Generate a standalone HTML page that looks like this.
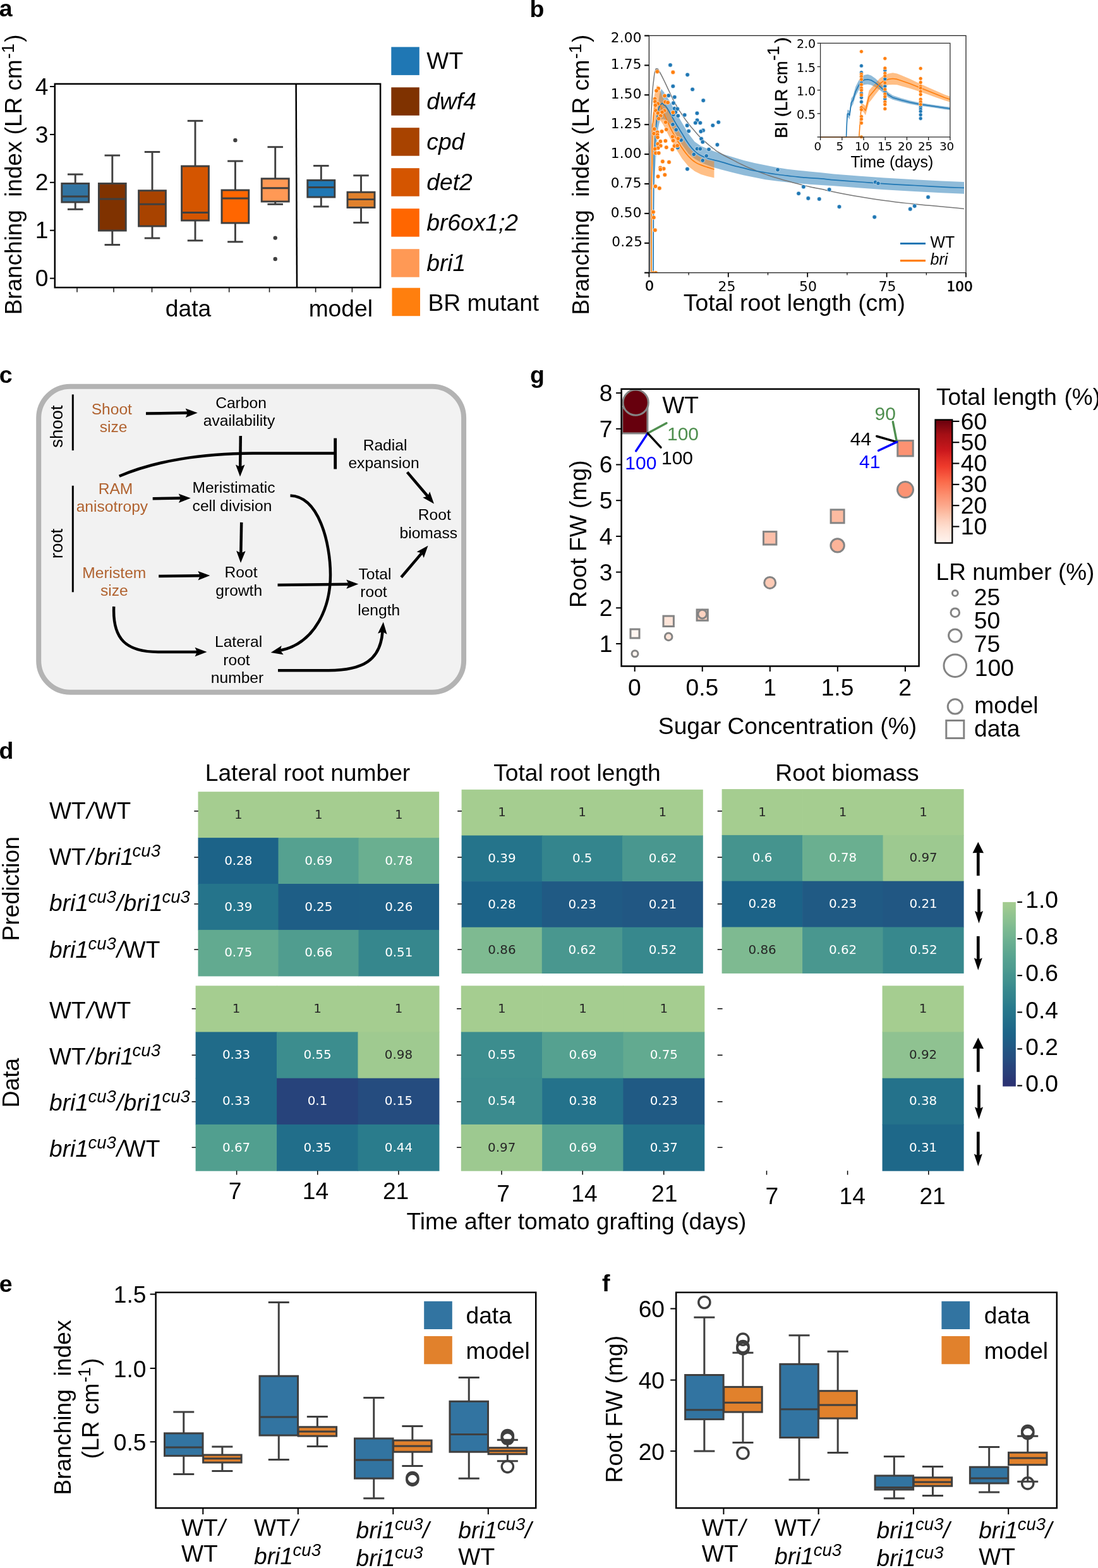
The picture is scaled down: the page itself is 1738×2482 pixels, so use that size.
<!DOCTYPE html>
<html lang="en">
<head>
<meta charset="utf-8">
<title>Figure: root branching model</title>
<style>
html,body{margin:0;padding:0;background:#fff;}
body{width:1738px;height:2482px;overflow:hidden;}
svg{display:block;}
text{font-family:'Liberation Sans', Arial, Helvetica, sans-serif;}
text.d{font-family:'DejaVu Sans', 'Liberation Sans', sans-serif;}
</style>
</head>
<body>
<svg width="1738" height="2482" viewBox="0 0 1738 2482">
<rect x="0" y="0" width="1738" height="2482" fill="#fff"/>
<g id="panel-a">
<text class="a" x="-1.3" y="25.5" font-size="37.5" font-weight="bold">a</text>
<text class="a" x="34" y="276.4" font-size="36.9" text-anchor="middle" transform="rotate(-90 34 276.4)">Branching  index (LR cm<tspan dx="1.2" dy="-12.4" font-size="27.3">-1</tspan><tspan dx="2" dy="12.4" font-size="36.9">)</tspan></text>
<line x1="79" y1="440.6" x2="86.8" y2="440.6" stroke="#000" stroke-width="2"/>
<text class="a" x="76.5" y="453.2" font-size="37.2" text-anchor="end">0</text>
<line x1="79" y1="364.7" x2="86.8" y2="364.7" stroke="#000" stroke-width="2"/>
<text class="a" x="76.5" y="377.3" font-size="37.2" text-anchor="end">1</text>
<line x1="79" y1="288.8" x2="86.8" y2="288.8" stroke="#000" stroke-width="2"/>
<text class="a" x="76.5" y="301.4" font-size="37.2" text-anchor="end">2</text>
<line x1="79" y1="212.9" x2="86.8" y2="212.9" stroke="#000" stroke-width="2"/>
<text class="a" x="76.5" y="225.5" font-size="37.2" text-anchor="end">3</text>
<line x1="79" y1="137" x2="86.8" y2="137" stroke="#000" stroke-width="2"/>
<text class="a" x="76.5" y="149.6" font-size="37.2" text-anchor="end">4</text>
<line x1="122" y1="455.1" x2="122" y2="462.6" stroke="#222" stroke-width="1.6"/>
<line x1="180" y1="455.1" x2="180" y2="462.6" stroke="#222" stroke-width="1.6"/>
<line x1="240.5" y1="455.1" x2="240.5" y2="462.6" stroke="#222" stroke-width="1.6"/>
<line x1="301.7" y1="455.1" x2="301.7" y2="462.6" stroke="#222" stroke-width="1.6"/>
<line x1="362.7" y1="455.1" x2="362.7" y2="462.6" stroke="#222" stroke-width="1.6"/>
<line x1="426.5" y1="455.1" x2="426.5" y2="462.6" stroke="#222" stroke-width="1.6"/>
<line x1="499.6" y1="455.1" x2="499.6" y2="462.6" stroke="#222" stroke-width="1.6"/>
<line x1="557.4" y1="455.1" x2="557.4" y2="462.6" stroke="#222" stroke-width="1.6"/>
<line x1="119.2" y1="276" x2="119.2" y2="290.5" stroke="#3f3f3f" stroke-width="2.9"/>
<line x1="119.2" y1="320" x2="119.2" y2="331.3" stroke="#3f3f3f" stroke-width="2.9"/>
<line x1="106.95" y1="276" x2="131.45" y2="276" stroke="#3f3f3f" stroke-width="2.9"/>
<line x1="106.95" y1="331.3" x2="131.45" y2="331.3" stroke="#3f3f3f" stroke-width="2.9"/>
<rect x="97.8" y="290.5" width="42.8" height="29.5" fill="#3274a1" stroke="#3f3f3f" stroke-width="2.9"/>
<line x1="97.8" y1="311" x2="140.6" y2="311" stroke="#3f3f3f" stroke-width="2.9"/>
<line x1="177.8" y1="246" x2="177.8" y2="290.5" stroke="#3f3f3f" stroke-width="2.9"/>
<line x1="177.8" y1="365" x2="177.8" y2="387.5" stroke="#3f3f3f" stroke-width="2.9"/>
<line x1="165.55" y1="246" x2="190.05" y2="246" stroke="#3f3f3f" stroke-width="2.9"/>
<line x1="165.55" y1="387.5" x2="190.05" y2="387.5" stroke="#3f3f3f" stroke-width="2.9"/>
<rect x="156.4" y="290.5" width="42.8" height="74.5" fill="#7f3200" stroke="#3f3f3f" stroke-width="2.9"/>
<line x1="156.4" y1="315" x2="199.2" y2="315" stroke="#3f3f3f" stroke-width="2.9"/>
<line x1="241" y1="240.5" x2="241" y2="301.7" stroke="#3f3f3f" stroke-width="2.9"/>
<line x1="241" y1="358" x2="241" y2="377" stroke="#3f3f3f" stroke-width="2.9"/>
<line x1="228.75" y1="240.5" x2="253.25" y2="240.5" stroke="#3f3f3f" stroke-width="2.9"/>
<line x1="228.75" y1="377" x2="253.25" y2="377" stroke="#3f3f3f" stroke-width="2.9"/>
<rect x="219.6" y="301.7" width="42.8" height="56.3" fill="#a84300" stroke="#3f3f3f" stroke-width="2.9"/>
<line x1="219.6" y1="323.3" x2="262.4" y2="323.3" stroke="#3f3f3f" stroke-width="2.9"/>
<line x1="309" y1="191.3" x2="309" y2="263" stroke="#3f3f3f" stroke-width="2.9"/>
<line x1="309" y1="349" x2="309" y2="380.8" stroke="#3f3f3f" stroke-width="2.9"/>
<line x1="296.75" y1="191.3" x2="321.25" y2="191.3" stroke="#3f3f3f" stroke-width="2.9"/>
<line x1="296.75" y1="380.8" x2="321.25" y2="380.8" stroke="#3f3f3f" stroke-width="2.9"/>
<rect x="287.6" y="263" width="42.8" height="86" fill="#d45500" stroke="#3f3f3f" stroke-width="2.9"/>
<line x1="287.6" y1="336.5" x2="330.4" y2="336.5" stroke="#3f3f3f" stroke-width="2.9"/>
<line x1="372.4" y1="255" x2="372.4" y2="301" stroke="#3f3f3f" stroke-width="2.9"/>
<line x1="372.4" y1="353" x2="372.4" y2="382.8" stroke="#3f3f3f" stroke-width="2.9"/>
<line x1="360.15" y1="255" x2="384.65" y2="255" stroke="#3f3f3f" stroke-width="2.9"/>
<line x1="360.15" y1="382.8" x2="384.65" y2="382.8" stroke="#3f3f3f" stroke-width="2.9"/>
<rect x="351" y="301" width="42.8" height="52" fill="#ff6600" stroke="#3f3f3f" stroke-width="2.9"/>
<line x1="351" y1="314" x2="393.8" y2="314" stroke="#3f3f3f" stroke-width="2.9"/>
<circle cx="372.4" cy="222" r="3.2" fill="#3f3f3f"/>
<line x1="435.7" y1="232.7" x2="435.7" y2="282.8" stroke="#3f3f3f" stroke-width="2.9"/>
<line x1="435.7" y1="319" x2="435.7" y2="323.3" stroke="#3f3f3f" stroke-width="2.9"/>
<line x1="423.45" y1="232.7" x2="447.95" y2="232.7" stroke="#3f3f3f" stroke-width="2.9"/>
<line x1="423.45" y1="323.3" x2="447.95" y2="323.3" stroke="#3f3f3f" stroke-width="2.9"/>
<rect x="414.2" y="282.8" width="43" height="36.2" fill="#ff9955" stroke="#3f3f3f" stroke-width="2.9"/>
<line x1="414.2" y1="297.7" x2="457.2" y2="297.7" stroke="#3f3f3f" stroke-width="2.9"/>
<circle cx="435.7" cy="376.6" r="3.2" fill="#3f3f3f"/>
<circle cx="435.7" cy="410" r="3.2" fill="#3f3f3f"/>
<line x1="508.3" y1="262.4" x2="508.3" y2="285.3" stroke="#3f3f3f" stroke-width="2.9"/>
<line x1="508.3" y1="312" x2="508.3" y2="327" stroke="#3f3f3f" stroke-width="2.9"/>
<line x1="496.05" y1="262.4" x2="520.55" y2="262.4" stroke="#3f3f3f" stroke-width="2.9"/>
<line x1="496.05" y1="327" x2="520.55" y2="327" stroke="#3f3f3f" stroke-width="2.9"/>
<rect x="486.8" y="285.3" width="43" height="26.7" fill="#1f77b4" stroke="#3f3f3f" stroke-width="2.9"/>
<line x1="486.8" y1="296.5" x2="529.8" y2="296.5" stroke="#3f3f3f" stroke-width="2.9"/>
<line x1="571.5" y1="277.8" x2="571.5" y2="304.2" stroke="#3f3f3f" stroke-width="2.9"/>
<line x1="571.5" y1="328.5" x2="571.5" y2="352.4" stroke="#3f3f3f" stroke-width="2.9"/>
<line x1="559.25" y1="277.8" x2="583.75" y2="277.8" stroke="#3f3f3f" stroke-width="2.9"/>
<line x1="559.25" y1="352.4" x2="583.75" y2="352.4" stroke="#3f3f3f" stroke-width="2.9"/>
<rect x="550" y="304.2" width="43" height="24.3" fill="#e1812c" stroke="#3f3f3f" stroke-width="2.9"/>
<line x1="550" y1="315.6" x2="593" y2="315.6" stroke="#3f3f3f" stroke-width="2.9"/>
<rect x="86.8" y="132.8" width="515.3" height="322.3" fill="none" stroke="#000" stroke-width="2.5"/>
<line x1="468.6" y1="132.8" x2="470" y2="455.1" stroke="#000" stroke-width="2.5"/>
<text class="a" x="298" y="500.8" font-size="37.2" text-anchor="middle">data</text>
<text class="a" x="539.3" y="500.8" font-size="37.2" text-anchor="middle">model</text>
<rect x="619.3" y="74.4" width="44.5" height="44.5" fill="#1f77b4"/>
<text class="a" x="675.3" y="109" font-size="37.2">WT</text>
<rect x="619.3" y="138.3" width="44.5" height="44.5" fill="#7f3200"/>
<text class="a" x="675.3" y="172.9" font-size="37.2" font-style="italic">dwf4</text>
<rect x="619.3" y="202.2" width="44.5" height="44.5" fill="#a84300"/>
<text class="a" x="675.3" y="236.8" font-size="37.2" font-style="italic">cpd</text>
<rect x="619.3" y="266.2" width="44.5" height="44.5" fill="#d45500"/>
<text class="a" x="675.3" y="300.8" font-size="37.2" font-style="italic">det2</text>
<rect x="619.3" y="330.2" width="44.5" height="44.5" fill="#ff6600"/>
<text class="a" x="675.3" y="364.8" font-size="37.2" font-style="italic">br6ox1;2</text>
<rect x="619.3" y="394.2" width="44.5" height="44.5" fill="#ff9955"/>
<text class="a" x="675.3" y="428.8" font-size="37.2" font-style="italic">bri1</text>
<rect x="620.5" y="455.7" width="44.5" height="44.5" fill="#ff7f0e"/>
<text class="a" x="677.5" y="491.8" font-size="37.2">BR mutant</text>
</g>
<g id="panel-b">
<text class="a" x="838.6" y="27.2" font-size="37.5" font-weight="bold">b</text>
<text class="a" x="932.2" y="276.6" font-size="36.9" text-anchor="middle" transform="rotate(-90 932.2 276.6)">Branching  index (LR cm<tspan dx="1.2" dy="-12.4" font-size="27.3">-1</tspan><tspan dx="2" dy="12.4" font-size="36.9">)</tspan></text>
<clipPath id="clipb"><rect x="1027.4" y="56.4" width="501.6" height="375.3"/></clipPath>
<g clip-path="url(#clipb)">
<path d="M1034.93 299.95 L1036.92 229.3 L1039.9 179.55 L1043.88 149.7 L1046.87 140.75 L1050.85 145.72 L1059.8 159.65 L1069.75 177.56 L1079.7 194.48 L1089.65 211.39 L1099.6 224.33 L1109.55 231.29 L1119.5 235.27 L1129.45 239.25 L1141.89 243.28 L1159.3 248.5 L1176.71 253.73 L1194.13 258.08 L1211.54 261.56 L1228.95 265.04 L1246.36 267.66 L1263.78 269.75 L1281.19 271.49 L1299.99 273.23 L1320 275.5 L1361.6 278.7 L1400 281.5 L1447.5 284.2 L1490 286.5 L1526 288 L1526 306.8 L1490 305.3 L1447.5 303 L1400 300.3 L1361.6 297.5 L1320 294.3 L1299.99 292.9 L1281.19 291.69 L1263.78 290.29 L1246.36 288.55 L1228.95 286.46 L1211.54 284.2 L1194.13 280.72 L1176.71 277.23 L1159.3 272.88 L1141.89 268.53 L1129.45 265.12 L1119.5 261.14 L1109.55 257.16 L1099.6 251.19 L1089.65 243.23 L1079.7 229.3 L1069.75 212.39 L1059.8 195.47 L1054.83 190.5 L1049.85 188.51 L1044.88 189.5 L1041.89 202.44 L1038.91 239.25 L1034.93 299.95 Z" fill="#1f77b4" fill-opacity="0.5"/>
<path d="M1029.95 299.95 L1032.94 189.5 L1035.92 149.7 L1039.9 134.78 L1043.88 139.75 L1047.86 151.69 L1054.83 167.61 L1059.8 179.55 L1069.75 199.45 L1079.7 217.36 L1089.65 232.29 L1099.6 243.23 L1109.55 249.2 L1119.5 253.18 L1130.45 255.17 L1130.45 281.54 L1119.5 279.05 L1109.55 276.07 L1099.6 271.09 L1089.65 263.13 L1079.7 251.19 L1069.75 235.27 L1059.8 217.36 L1054.83 207.41 L1049.85 197.46 L1045.87 191.49 L1041.89 189.5 L1036.92 199.45 L1034.93 239.25 L1031.94 299.95 Z" fill="#ff7f0e" fill-opacity="0.5"/>
<path d="M1028.46 438.26 C1028.69 392.16 1028.66 376.24 1029.15 299.95 C1029.65 223.67 1029.02 256.17 1029.95 209.4 C1030.88 162.64 1030.28 187.84 1031.94 159.65 C1033.6 131.46 1033.1 140.75 1034.93 124.83 C1036.75 108.91 1035.92 117.13 1037.41 111.89 C1038.91 106.65 1038.08 109.77 1039.4 109.1 C1040.73 108.44 1040.23 108.97 1041.39 109.9 C1042.55 110.83 1040.07 106.92 1042.89 111.89 C1045.7 116.87 1044.21 113.55 1049.85 124.83 C1055.49 136.1 1053.17 132.12 1059.8 145.72 C1066.43 159.32 1063.12 153.68 1069.75 165.62 C1076.38 177.56 1073.07 171.59 1079.7 181.54 C1086.33 191.49 1083.02 186.85 1089.65 195.47 C1096.29 204.1 1092.97 199.78 1099.6 207.41 C1106.24 215.04 1102.92 211.72 1109.55 218.36 C1116.19 224.99 1112.87 221.67 1119.5 227.31 C1126.14 232.95 1122.82 230.3 1129.45 235.27 C1136.09 240.25 1129.45 236.38 1139.4 242.24 C1149.35 248.1 1146.86 246.41 1159.3 252.86 C1171.74 259.3 1165.1 256.16 1176.71 261.56 C1188.32 266.96 1182.52 264.29 1194.13 269.05 C1205.73 273.81 1199.93 271.66 1211.54 275.84 C1223.15 280.02 1217.34 278.05 1228.95 281.59 C1240.56 285.13 1234.75 283.27 1246.36 286.46 C1257.97 289.65 1252.17 288.14 1263.78 291.16 C1275.38 294.18 1269.11 292.79 1281.19 295.52 C1293.26 298.24 1287.06 296.59 1299.99 299.35 C1312.93 302.11 1299.46 299.75 1320 303.8 C1340.54 307.85 1333.27 306.77 1361.6 311.5 C1389.93 316.23 1376.37 314.17 1405 318 C1433.63 321.83 1419.17 320 1447.5 323 C1475.83 326 1463.83 324.53 1490 327 C1516.17 329.47 1514 329.27 1526 330.4" fill="none" stroke="#777" stroke-width="1.5" stroke-linejoin="round"/>
<path d="M1033.93 438.26 C1034.2 393.15 1034.26 324.83 1034.93 269.1 C1035.59 213.38 1035.49 247.88 1036.42 229.3 C1037.35 210.73 1037.21 212.72 1038.41 199.45 C1039.6 186.19 1039.44 187.78 1040.9 179.55 C1042.35 171.33 1042.29 172.59 1043.88 168.61 C1045.47 164.63 1045.67 165.95 1046.87 164.63 C1048.06 163.3 1047.3 163.23 1048.36 163.63 C1049.42 164.03 1049.12 164.53 1050.85 166.12 C1052.57 167.71 1052.44 166.55 1054.83 169.6 C1057.21 172.65 1057.15 173.05 1059.8 177.56 C1062.45 182.07 1062.12 181.74 1064.78 186.52 C1067.43 191.29 1067.1 190.96 1069.75 195.47 C1072.4 199.98 1072.07 199.19 1074.73 203.43 C1077.38 207.68 1075.72 205.02 1079.7 211.39 C1083.68 217.76 1084.34 219.88 1089.65 227.31 C1094.96 234.74 1094.3 234.21 1099.6 239.25 C1104.91 244.3 1104.25 243.3 1109.55 246.22 C1114.86 249.14 1114.2 248.34 1119.5 250.2 C1124.81 252.06 1123.48 251.55 1129.45 253.18 C1135.42 254.82 1133.93 254.1 1141.89 256.34 C1149.85 258.57 1150.01 259.01 1159.3 261.56 C1168.59 264.12 1167.43 263.59 1176.71 265.92 C1186 268.24 1184.84 268.32 1194.13 270.27 C1203.41 272.22 1202.25 271.7 1211.54 273.23 C1220.82 274.76 1219.66 274.71 1228.95 276.01 C1238.24 277.31 1237.08 276.99 1246.36 278.1 C1255.65 279.22 1254.49 279.26 1263.78 280.19 C1273.06 281.12 1271.53 280.89 1281.19 281.59 C1290.85 282.28 1289.64 281.95 1299.99 282.81 C1310.34 283.66 1303.57 283.41 1320 284.8 C1336.43 286.19 1340.27 286.4 1361.6 288 C1382.93 289.6 1377.09 289.33 1400 290.8 C1422.91 292.27 1423.5 292.17 1447.5 293.5 C1471.5 294.83 1469.07 294.79 1490 295.8 C1510.93 296.81 1516.4 296.9 1526 297.3" fill="none" stroke="#1f77b4" stroke-width="1.7" stroke-linejoin="round"/>
<path d="M1030.95 438.26 C1031.21 385.19 1031.14 305.59 1031.94 239.25 C1032.74 172.92 1032.6 208.08 1033.93 189.5 C1035.26 170.93 1035.32 176.37 1036.92 169.6 C1038.51 162.84 1038.31 165.72 1039.9 164.13 C1041.49 162.54 1041.29 162.44 1042.89 163.63 C1044.48 164.83 1044.01 164.89 1045.87 168.61 C1047.73 172.32 1047.46 172.26 1049.85 177.56 C1052.24 182.87 1052.17 182.67 1054.83 188.51 C1057.48 194.34 1057.15 193.88 1059.8 199.45 C1062.45 205.02 1062.12 204.36 1064.78 209.4 C1067.43 214.44 1067.1 213.85 1069.75 218.36 C1072.4 222.87 1072.07 222.07 1074.73 226.32 C1077.38 230.56 1075.72 228.71 1079.7 234.28 C1083.68 239.85 1084.34 241.38 1089.65 247.21 C1094.96 253.05 1094.3 252.45 1099.6 256.17 C1104.91 259.88 1104.25 258.89 1109.55 261.14 C1114.86 263.4 1113.93 262.77 1119.5 264.63 C1125.07 266.48 1127.53 267.18 1130.45 268.11" fill="none" stroke="#ff7f0e" stroke-width="1.7" stroke-linejoin="round"/>
<circle cx="1061" cy="102.94" r="3.3" fill="#1f77b4" stroke="#fff" stroke-width="0.6"/>
<circle cx="1088.16" cy="118.36" r="3.3" fill="#1f77b4" stroke="#fff" stroke-width="0.6"/>
<circle cx="1065.27" cy="136.57" r="3.3" fill="#1f77b4" stroke="#fff" stroke-width="0.6"/>
<circle cx="1096.12" cy="141.44" r="3.3" fill="#1f77b4" stroke="#fff" stroke-width="0.6"/>
<circle cx="1058.31" cy="151.19" r="3.3" fill="#1f77b4" stroke="#fff" stroke-width="0.6"/>
<circle cx="1067.76" cy="153.68" r="3.3" fill="#1f77b4" stroke="#fff" stroke-width="0.6"/>
<circle cx="1113.23" cy="159.05" r="3.3" fill="#1f77b4" stroke="#fff" stroke-width="0.6"/>
<circle cx="1065.97" cy="163.13" r="3.3" fill="#1f77b4" stroke="#fff" stroke-width="0.6"/>
<circle cx="1067.56" cy="171.79" r="3.3" fill="#1f77b4" stroke="#fff" stroke-width="0.6"/>
<circle cx="1072.24" cy="172.39" r="3.3" fill="#1f77b4" stroke="#fff" stroke-width="0.6"/>
<circle cx="1069.25" cy="177.56" r="3.3" fill="#1f77b4" stroke="#fff" stroke-width="0.6"/>
<circle cx="1103.38" cy="179.25" r="3.3" fill="#1f77b4" stroke="#fff" stroke-width="0.6"/>
<circle cx="1065.77" cy="181.54" r="3.3" fill="#1f77b4" stroke="#fff" stroke-width="0.6"/>
<circle cx="1073.23" cy="183.33" r="3.3" fill="#1f77b4" stroke="#fff" stroke-width="0.6"/>
<circle cx="1083.68" cy="182.04" r="3.3" fill="#1f77b4" stroke="#fff" stroke-width="0.6"/>
<circle cx="1103.58" cy="190.3" r="3.3" fill="#1f77b4" stroke="#fff" stroke-width="0.6"/>
<circle cx="1100.8" cy="194.48" r="3.3" fill="#1f77b4" stroke="#fff" stroke-width="0.6"/>
<circle cx="1108.36" cy="194.48" r="3.3" fill="#1f77b4" stroke="#fff" stroke-width="0.6"/>
<circle cx="1137.21" cy="193.48" r="3.3" fill="#1f77b4" stroke="#fff" stroke-width="0.6"/>
<circle cx="1128.26" cy="198.46" r="3.3" fill="#1f77b4" stroke="#fff" stroke-width="0.6"/>
<circle cx="1064.98" cy="196.97" r="3.3" fill="#1f77b4" stroke="#fff" stroke-width="0.6"/>
<circle cx="1087.66" cy="198.66" r="3.3" fill="#1f77b4" stroke="#fff" stroke-width="0.6"/>
<circle cx="1070.25" cy="205.42" r="3.3" fill="#1f77b4" stroke="#fff" stroke-width="0.6"/>
<circle cx="1090.15" cy="207.61" r="3.3" fill="#1f77b4" stroke="#fff" stroke-width="0.6"/>
<circle cx="1113.03" cy="206.42" r="3.3" fill="#1f77b4" stroke="#fff" stroke-width="0.6"/>
<circle cx="1109.35" cy="208.11" r="3.3" fill="#1f77b4" stroke="#fff" stroke-width="0.6"/>
<circle cx="1110.05" cy="219.65" r="3.3" fill="#1f77b4" stroke="#fff" stroke-width="0.6"/>
<circle cx="1112.24" cy="224.73" r="3.3" fill="#1f77b4" stroke="#fff" stroke-width="0.6"/>
<circle cx="1078.21" cy="221.84" r="3.3" fill="#1f77b4" stroke="#fff" stroke-width="0.6"/>
<circle cx="1135.42" cy="229.1" r="3.3" fill="#1f77b4" stroke="#fff" stroke-width="0.6"/>
<circle cx="1072.74" cy="233.78" r="3.3" fill="#1f77b4" stroke="#fff" stroke-width="0.6"/>
<circle cx="1103.38" cy="235.47" r="3.3" fill="#1f77b4" stroke="#fff" stroke-width="0.6"/>
<circle cx="1108.36" cy="235.67" r="3.3" fill="#1f77b4" stroke="#fff" stroke-width="0.6"/>
<circle cx="1121.99" cy="236.57" r="3.3" fill="#1f77b4" stroke="#fff" stroke-width="0.6"/>
<circle cx="1098.31" cy="244.33" r="3.3" fill="#1f77b4" stroke="#fff" stroke-width="0.6"/>
<circle cx="1118.21" cy="246.72" r="3.3" fill="#1f77b4" stroke="#fff" stroke-width="0.6"/>
<circle cx="1112.24" cy="253.98" r="3.3" fill="#1f77b4" stroke="#fff" stroke-width="0.6"/>
<circle cx="1087.96" cy="267.61" r="3.3" fill="#1f77b4" stroke="#fff" stroke-width="0.6"/>
<circle cx="1231" cy="268.8" r="3.3" fill="#1f77b4" stroke="#fff" stroke-width="0.6"/>
<circle cx="1271.9" cy="295.7" r="3.3" fill="#1f77b4" stroke="#fff" stroke-width="0.6"/>
<circle cx="1264.1" cy="306.3" r="3.3" fill="#1f77b4" stroke="#fff" stroke-width="0.6"/>
<circle cx="1279.3" cy="313.9" r="3.3" fill="#1f77b4" stroke="#fff" stroke-width="0.6"/>
<circle cx="1296.8" cy="315" r="3.3" fill="#1f77b4" stroke="#fff" stroke-width="0.6"/>
<circle cx="1312.7" cy="300.1" r="3.3" fill="#1f77b4" stroke="#fff" stroke-width="0.6"/>
<circle cx="1328.5" cy="327.2" r="3.3" fill="#1f77b4" stroke="#fff" stroke-width="0.6"/>
<circle cx="1385.6" cy="288.3" r="3.3" fill="#1f77b4" stroke="#fff" stroke-width="0.6"/>
<circle cx="1390" cy="290.2" r="3.3" fill="#1f77b4" stroke="#fff" stroke-width="0.6"/>
<circle cx="1384.2" cy="343.6" r="3.3" fill="#1f77b4" stroke="#fff" stroke-width="0.6"/>
<circle cx="1440.8" cy="330.9" r="3.3" fill="#1f77b4" stroke="#fff" stroke-width="0.6"/>
<circle cx="1447.7" cy="326.1" r="3.3" fill="#1f77b4" stroke="#fff" stroke-width="0.6"/>
<circle cx="1469.1" cy="312" r="3.3" fill="#1f77b4" stroke="#fff" stroke-width="0.6"/>
<circle cx="1040.4" cy="113.38" r="3.3" fill="#ff7f0e" stroke="#fff" stroke-width="0.6"/>
<circle cx="1065.27" cy="114.38" r="3.3" fill="#ff7f0e" stroke="#fff" stroke-width="0.6"/>
<circle cx="1042.09" cy="140.05" r="3.3" fill="#ff7f0e" stroke="#fff" stroke-width="0.6"/>
<circle cx="1039.1" cy="143.73" r="3.3" fill="#ff7f0e" stroke="#fff" stroke-width="0.6"/>
<circle cx="1052.04" cy="151.69" r="3.3" fill="#ff7f0e" stroke="#fff" stroke-width="0.6"/>
<circle cx="1036.72" cy="156.47" r="3.3" fill="#ff7f0e" stroke="#fff" stroke-width="0.6"/>
<circle cx="1036.92" cy="160.85" r="3.3" fill="#ff7f0e" stroke="#fff" stroke-width="0.6"/>
<circle cx="1053.03" cy="161.34" r="3.3" fill="#ff7f0e" stroke="#fff" stroke-width="0.6"/>
<circle cx="1057.01" cy="162.34" r="3.3" fill="#ff7f0e" stroke="#fff" stroke-width="0.6"/>
<circle cx="1041.39" cy="164.13" r="3.3" fill="#ff7f0e" stroke="#fff" stroke-width="0.6"/>
<circle cx="1037.41" cy="166.62" r="3.3" fill="#ff7f0e" stroke="#fff" stroke-width="0.6"/>
<circle cx="1037.91" cy="175.07" r="3.3" fill="#ff7f0e" stroke="#fff" stroke-width="0.6"/>
<circle cx="1051.64" cy="175.27" r="3.3" fill="#ff7f0e" stroke="#fff" stroke-width="0.6"/>
<circle cx="1048.06" cy="177.56" r="3.3" fill="#ff7f0e" stroke="#fff" stroke-width="0.6"/>
<circle cx="1065.27" cy="177.96" r="3.3" fill="#ff7f0e" stroke="#fff" stroke-width="0.6"/>
<circle cx="1041.39" cy="179.05" r="3.3" fill="#ff7f0e" stroke="#fff" stroke-width="0.6"/>
<circle cx="1045.67" cy="183.33" r="3.3" fill="#ff7f0e" stroke="#fff" stroke-width="0.6"/>
<circle cx="1042.69" cy="187.71" r="3.3" fill="#ff7f0e" stroke="#fff" stroke-width="0.6"/>
<circle cx="1053.63" cy="193.48" r="3.3" fill="#ff7f0e" stroke="#fff" stroke-width="0.6"/>
<circle cx="1035.62" cy="204.23" r="3.3" fill="#ff7f0e" stroke="#fff" stroke-width="0.6"/>
<circle cx="1054.83" cy="204.93" r="3.3" fill="#ff7f0e" stroke="#fff" stroke-width="0.6"/>
<circle cx="1047.56" cy="208.11" r="3.3" fill="#ff7f0e" stroke="#fff" stroke-width="0.6"/>
<circle cx="1040.6" cy="209.4" r="3.3" fill="#ff7f0e" stroke="#fff" stroke-width="0.6"/>
<circle cx="1034.93" cy="211.39" r="3.3" fill="#ff7f0e" stroke="#fff" stroke-width="0.6"/>
<circle cx="1040.6" cy="213.38" r="3.3" fill="#ff7f0e" stroke="#fff" stroke-width="0.6"/>
<circle cx="1040.9" cy="217.36" r="3.3" fill="#ff7f0e" stroke="#fff" stroke-width="0.6"/>
<circle cx="1064.48" cy="216.37" r="3.3" fill="#ff7f0e" stroke="#fff" stroke-width="0.6"/>
<circle cx="1073.23" cy="219.35" r="3.3" fill="#ff7f0e" stroke="#fff" stroke-width="0.6"/>
<circle cx="1045.37" cy="223.83" r="3.3" fill="#ff7f0e" stroke="#fff" stroke-width="0.6"/>
<circle cx="1053.33" cy="223.03" r="3.3" fill="#ff7f0e" stroke="#fff" stroke-width="0.6"/>
<circle cx="1065.57" cy="222.54" r="3.3" fill="#ff7f0e" stroke="#fff" stroke-width="0.6"/>
<circle cx="1041.19" cy="227.81" r="3.3" fill="#ff7f0e" stroke="#fff" stroke-width="0.6"/>
<circle cx="1045.67" cy="230.8" r="3.3" fill="#ff7f0e" stroke="#fff" stroke-width="0.6"/>
<circle cx="1067.46" cy="231.09" r="3.3" fill="#ff7f0e" stroke="#fff" stroke-width="0.6"/>
<circle cx="1072.24" cy="230.5" r="3.3" fill="#ff7f0e" stroke="#fff" stroke-width="0.6"/>
<circle cx="1054.83" cy="233.28" r="3.3" fill="#ff7f0e" stroke="#fff" stroke-width="0.6"/>
<circle cx="1041.69" cy="234.28" r="3.3" fill="#ff7f0e" stroke="#fff" stroke-width="0.6"/>
<circle cx="1036.62" cy="235.77" r="3.3" fill="#ff7f0e" stroke="#fff" stroke-width="0.6"/>
<circle cx="1064.28" cy="236.77" r="3.3" fill="#ff7f0e" stroke="#fff" stroke-width="0.6"/>
<circle cx="1037.91" cy="242.24" r="3.3" fill="#ff7f0e" stroke="#fff" stroke-width="0.6"/>
<circle cx="1042.69" cy="242.24" r="3.3" fill="#ff7f0e" stroke="#fff" stroke-width="0.6"/>
<circle cx="1048.86" cy="255.67" r="3.3" fill="#ff7f0e" stroke="#fff" stroke-width="0.6"/>
<circle cx="1059" cy="256.67" r="3.3" fill="#ff7f0e" stroke="#fff" stroke-width="0.6"/>
<circle cx="1045.17" cy="265.62" r="3.3" fill="#ff7f0e" stroke="#fff" stroke-width="0.6"/>
<circle cx="1050.65" cy="267.11" r="3.3" fill="#ff7f0e" stroke="#fff" stroke-width="0.6"/>
<circle cx="1045.37" cy="268.11" r="3.3" fill="#ff7f0e" stroke="#fff" stroke-width="0.6"/>
<circle cx="1052.34" cy="276.77" r="3.3" fill="#ff7f0e" stroke="#fff" stroke-width="0.6"/>
<circle cx="1041.59" cy="279.35" r="3.3" fill="#ff7f0e" stroke="#fff" stroke-width="0.6"/>
<circle cx="1037.41" cy="294.98" r="3.3" fill="#ff7f0e" stroke="#fff" stroke-width="0.6"/>
<circle cx="1043.88" cy="297.96" r="3.3" fill="#ff7f0e" stroke="#fff" stroke-width="0.6"/>
<circle cx="1034" cy="335.6" r="3.3" fill="#ff7f0e" stroke="#fff" stroke-width="0.6"/>
<circle cx="1034.8" cy="344.3" r="3.3" fill="#ff7f0e" stroke="#fff" stroke-width="0.6"/>
<circle cx="1036.9" cy="364.3" r="3.3" fill="#ff7f0e" stroke="#fff" stroke-width="0.6"/>
<circle cx="1034.5" cy="432" r="3.3" fill="#ff7f0e" stroke="#fff" stroke-width="0.6"/>
<circle cx="1038" cy="432" r="3.3" fill="#ff7f0e" stroke="#fff" stroke-width="0.6"/>
</g>
<rect x="1027.4" y="56.4" width="501.6" height="375.3" fill="none" stroke="#222" stroke-width="1.3"/>
<line x1="1020.1" y1="384.8" x2="1027.4" y2="384.8" stroke="#000" stroke-width="2.1"/>
<text class="d" x="1017.3" y="390.2" font-size="21.6" text-anchor="end" letter-spacing="0.25">0.25</text>
<line x1="1020.1" y1="337.9" x2="1027.4" y2="337.9" stroke="#000" stroke-width="2.1"/>
<text class="d" x="1015.8" y="343.9" font-size="21.6" text-anchor="end" letter-spacing="0.25">0.50</text>
<line x1="1020.1" y1="291" x2="1027.4" y2="291" stroke="#000" stroke-width="2.1"/>
<text class="d" x="1015.8" y="297" font-size="21.6" text-anchor="end" letter-spacing="0.25">0.75</text>
<line x1="1020.1" y1="244.1" x2="1027.4" y2="244.1" stroke="#000" stroke-width="2.1"/>
<text class="d" x="1015.8" y="250.1" font-size="21.6" text-anchor="end" letter-spacing="0.25">1.00</text>
<line x1="1020.1" y1="197.2" x2="1027.4" y2="197.2" stroke="#000" stroke-width="2.1"/>
<text class="d" x="1015.8" y="203.2" font-size="21.6" text-anchor="end" letter-spacing="0.25">1.25</text>
<line x1="1020.1" y1="150.3" x2="1027.4" y2="150.3" stroke="#000" stroke-width="2.1"/>
<text class="d" x="1015.8" y="156.3" font-size="21.6" text-anchor="end" letter-spacing="0.25">1.50</text>
<line x1="1020.1" y1="103.4" x2="1027.4" y2="103.4" stroke="#000" stroke-width="2.1"/>
<text class="d" x="1015.8" y="109.4" font-size="21.6" text-anchor="end" letter-spacing="0.25">1.75</text>
<line x1="1020.1" y1="56.5" x2="1027.4" y2="56.5" stroke="#000" stroke-width="2.1"/>
<text class="d" x="1015.8" y="67.1" font-size="21.6" text-anchor="end" letter-spacing="0.25">2.00</text>
<line x1="1020.1" y1="431.7" x2="1027.4" y2="431.7" stroke="#000" stroke-width="2.1"/>
<line x1="1027.4" y1="431.7" x2="1027.4" y2="438.7" stroke="#000" stroke-width="1.8"/>
<text class="d" x="1028" y="459.8" font-size="22" text-anchor="middle" stroke="#000" stroke-width="0.5">0</text>
<line x1="1090.1" y1="431.7" x2="1090.1" y2="435.5" stroke="#000" stroke-width="1.2"/>
<line x1="1152.8" y1="431.7" x2="1152.8" y2="438.7" stroke="#000" stroke-width="1.8"/>
<text class="d" x="1150.4" y="461.3" font-size="22" text-anchor="middle">25</text>
<line x1="1215.5" y1="431.7" x2="1215.5" y2="435.5" stroke="#000" stroke-width="1.2"/>
<line x1="1278.2" y1="431.7" x2="1278.2" y2="438.7" stroke="#000" stroke-width="1.8"/>
<text class="d" x="1279" y="461.3" font-size="22" text-anchor="middle">50</text>
<line x1="1340.9" y1="431.7" x2="1340.9" y2="435.5" stroke="#000" stroke-width="1.2"/>
<line x1="1403.6" y1="431.7" x2="1403.6" y2="438.7" stroke="#000" stroke-width="1.8"/>
<text class="d" x="1404.4" y="461.3" font-size="22" text-anchor="middle">75</text>
<line x1="1466.3" y1="431.7" x2="1466.3" y2="435.5" stroke="#000" stroke-width="1.2"/>
<line x1="1529" y1="431.7" x2="1529" y2="438.7" stroke="#000" stroke-width="1.8"/>
<text class="d" x="1519.2" y="461.3" font-size="21.6" text-anchor="middle" stroke="#000" stroke-width="0.7">100</text>
<text class="a" x="1257.3" y="492" font-size="37.4" text-anchor="middle">Total root length (cm)</text>
<line x1="1425" y1="385.5" x2="1465" y2="385.5" stroke="#1f77b4" stroke-width="3.2"/>
<text class="a" x="1472.4" y="391.9" font-size="24.9">WT</text>
<line x1="1425" y1="412.6" x2="1465" y2="412.6" stroke="#ff7f0e" stroke-width="3.2"/>
<text class="a" x="1472.6" y="419.3" font-size="25" font-style="italic">bri</text>
<clipPath id="clipi"><rect x="1298.6" y="68.4" width="205.3" height="150.5"/></clipPath>
<g clip-path="url(#clipi)">
<path d="M1339.53 216.93 L1340.35 195.45 L1341.31 174.24 L1342.67 173.56 L1344.73 175.61 L1347.46 155.77 L1350.2 151.67 L1354.3 137.3 L1358.41 129.09 L1362.51 122.25 L1367.99 118.83 L1373.46 117.74 L1378.93 119.52 L1385.77 124.3 L1392.61 130.87 L1399.45 138.67 L1406.29 146.47 L1413.14 151.12 L1426.82 155.5 L1440.5 159.19 L1454.18 162.2 L1467.86 164.39 L1481.54 166.44 L1495.23 168.5 L1503.71 169.59 L1503.71 174.24 L1495.23 173.15 L1481.54 171.1 L1467.86 169.04 L1454.18 167.13 L1440.5 164.67 L1426.82 161.52 L1413.14 157.69 L1406.29 154.13 L1399.45 148.25 L1392.61 142.36 L1385.77 137.99 L1378.93 134.57 L1373.46 133.61 L1367.99 133.88 L1362.51 137.3 L1358.41 144.14 L1354.3 152.35 L1350.2 165.35 L1347.46 169.45 L1344.73 189.29 L1342.67 185.87 L1341.31 186.56 L1340.35 198.19 L1339.53 216.93 Z" fill="#1f77b4" fill-opacity="0.5"/>
<path d="M1359.78 216.93 L1361.15 195.45 L1363.2 163.98 L1366.62 164.67 L1370.04 167.4 L1372.09 158.51 L1375.51 143.46 L1378.93 139.35 L1385.77 131.83 L1392.61 124.03 L1399.45 119.24 L1406.29 116.51 L1413.14 115.27 L1419.98 116.51 L1426.82 119.24 L1440.5 124.99 L1454.18 131.42 L1467.86 137.71 L1481.54 143.73 L1495.23 149.75 L1503.71 152.76 L1503.71 161.52 L1495.23 159.06 L1481.54 154.13 L1467.86 149.21 L1454.18 144.55 L1440.5 140.04 L1426.82 136.21 L1419.98 134.29 L1413.14 133.88 L1406.29 134.29 L1399.45 136.21 L1392.61 141 L1385.77 149.62 L1378.93 158.51 L1375.51 162.61 L1372.09 174.93 L1370.04 182.45 L1366.62 176.98 L1363.2 174.93 L1361.15 198.19 L1359.78 216.93 Z" fill="#ff7f0e" fill-opacity="0.5"/>
<path d="M1298.89 216.93 L1339.53 216.93 L1340.35 196.82 L1341.31 180.4 L1342.67 179.72 L1344.73 182.45 L1347.46 162.61 L1350.2 158.51 L1354.3 144.83 L1358.41 136.62 L1362.51 129.78 L1367.99 126.36 L1373.46 125.67 L1378.93 127.04 L1385.77 131.15 L1392.61 136.62 L1399.45 143.46 L1406.29 150.3 L1413.14 154.4 L1426.82 158.51 L1440.5 161.93 L1454.18 164.67 L1467.86 166.72 L1481.54 168.77 L1495.23 170.82 L1503.71 171.92" fill="none" stroke="#1f77b4" stroke-width="1.6" stroke-linejoin="round"/>
<path d="M1298.89 216.93 L1359.78 216.93 L1361.15 196.82 L1363.2 169.45 L1366.62 170.82 L1370.04 174.93 L1372.09 166.72 L1375.51 153.04 L1378.93 148.93 L1385.77 140.72 L1392.61 132.51 L1399.45 127.72 L1406.29 125.4 L1413.14 124.58 L1419.98 125.4 L1426.82 127.72 L1440.5 132.51 L1454.18 137.99 L1467.86 143.46 L1481.54 148.93 L1495.23 154.4 L1503.71 157.14" fill="none" stroke="#ff7f0e" stroke-width="1.6" stroke-linejoin="round"/>
<circle cx="1363.47" cy="104.19" r="2.9" fill="#1f77b4" stroke="#fff" stroke-width="0.5"/>
<circle cx="1363.47" cy="114.73" r="2.9" fill="#1f77b4" stroke="#fff" stroke-width="0.5"/>
<circle cx="1363.47" cy="121.57" r="2.9" fill="#1f77b4" stroke="#fff" stroke-width="0.5"/>
<circle cx="1363.47" cy="131.15" r="2.9" fill="#1f77b4" stroke="#fff" stroke-width="0.5"/>
<circle cx="1363.47" cy="142.09" r="2.9" fill="#1f77b4" stroke="#fff" stroke-width="0.5"/>
<circle cx="1363.47" cy="147.56" r="2.9" fill="#1f77b4" stroke="#fff" stroke-width="0.5"/>
<circle cx="1363.47" cy="154.4" r="2.9" fill="#1f77b4" stroke="#fff" stroke-width="0.5"/>
<circle cx="1363.47" cy="161.25" r="2.9" fill="#1f77b4" stroke="#fff" stroke-width="0.5"/>
<circle cx="1363.47" cy="81.62" r="2.9" fill="#ff7f0e" stroke="#fff" stroke-width="0.5"/>
<circle cx="1363.47" cy="117.46" r="2.9" fill="#ff7f0e" stroke="#fff" stroke-width="0.5"/>
<circle cx="1363.47" cy="120.88" r="2.9" fill="#ff7f0e" stroke="#fff" stroke-width="0.5"/>
<circle cx="1363.47" cy="125.67" r="2.9" fill="#ff7f0e" stroke="#fff" stroke-width="0.5"/>
<circle cx="1363.47" cy="133.88" r="2.9" fill="#ff7f0e" stroke="#fff" stroke-width="0.5"/>
<circle cx="1363.47" cy="139.35" r="2.9" fill="#ff7f0e" stroke="#fff" stroke-width="0.5"/>
<circle cx="1363.47" cy="142.77" r="2.9" fill="#ff7f0e" stroke="#fff" stroke-width="0.5"/>
<circle cx="1363.47" cy="150.3" r="2.9" fill="#ff7f0e" stroke="#fff" stroke-width="0.5"/>
<circle cx="1363.47" cy="170.14" r="2.9" fill="#ff7f0e" stroke="#fff" stroke-width="0.5"/>
<circle cx="1363.47" cy="173.56" r="2.9" fill="#ff7f0e" stroke="#fff" stroke-width="0.5"/>
<circle cx="1363.47" cy="184.5" r="2.9" fill="#ff7f0e" stroke="#fff" stroke-width="0.5"/>
<circle cx="1363.47" cy="188.61" r="2.9" fill="#ff7f0e" stroke="#fff" stroke-width="0.5"/>
<circle cx="1363.47" cy="194.77" r="2.9" fill="#ff7f0e" stroke="#fff" stroke-width="0.5"/>
<circle cx="1363.47" cy="216.93" r="2.9" fill="#ff7f0e" stroke="#fff" stroke-width="0.5"/>
<circle cx="1400.82" cy="111.31" r="2.9" fill="#1f77b4" stroke="#fff" stroke-width="0.5"/>
<circle cx="1400.82" cy="124.99" r="2.9" fill="#1f77b4" stroke="#fff" stroke-width="0.5"/>
<circle cx="1400.82" cy="136.62" r="2.9" fill="#1f77b4" stroke="#fff" stroke-width="0.5"/>
<circle cx="1400.82" cy="144.83" r="2.9" fill="#1f77b4" stroke="#fff" stroke-width="0.5"/>
<circle cx="1400.82" cy="156.46" r="2.9" fill="#1f77b4" stroke="#fff" stroke-width="0.5"/>
<circle cx="1400.82" cy="92.56" r="2.9" fill="#ff7f0e" stroke="#fff" stroke-width="0.5"/>
<circle cx="1400.82" cy="107.89" r="2.9" fill="#ff7f0e" stroke="#fff" stroke-width="0.5"/>
<circle cx="1400.82" cy="116.1" r="2.9" fill="#ff7f0e" stroke="#fff" stroke-width="0.5"/>
<circle cx="1400.82" cy="120.2" r="2.9" fill="#ff7f0e" stroke="#fff" stroke-width="0.5"/>
<circle cx="1400.82" cy="131.15" r="2.9" fill="#ff7f0e" stroke="#fff" stroke-width="0.5"/>
<circle cx="1400.82" cy="141.41" r="2.9" fill="#ff7f0e" stroke="#fff" stroke-width="0.5"/>
<circle cx="1400.82" cy="148.93" r="2.9" fill="#ff7f0e" stroke="#fff" stroke-width="0.5"/>
<circle cx="1400.82" cy="153.04" r="2.9" fill="#ff7f0e" stroke="#fff" stroke-width="0.5"/>
<circle cx="1400.82" cy="161.25" r="2.9" fill="#ff7f0e" stroke="#fff" stroke-width="0.5"/>
<circle cx="1400.82" cy="165.35" r="2.9" fill="#ff7f0e" stroke="#fff" stroke-width="0.5"/>
<circle cx="1400.82" cy="172.19" r="2.9" fill="#ff7f0e" stroke="#fff" stroke-width="0.5"/>
<circle cx="1457.19" cy="162.61" r="2.9" fill="#1f77b4" stroke="#fff" stroke-width="0.5"/>
<circle cx="1457.19" cy="169.45" r="2.9" fill="#1f77b4" stroke="#fff" stroke-width="0.5"/>
<circle cx="1457.19" cy="172.87" r="2.9" fill="#1f77b4" stroke="#fff" stroke-width="0.5"/>
<circle cx="1457.19" cy="176.29" r="2.9" fill="#1f77b4" stroke="#fff" stroke-width="0.5"/>
<circle cx="1457.19" cy="181.77" r="2.9" fill="#1f77b4" stroke="#fff" stroke-width="0.5"/>
<circle cx="1457.19" cy="187.51" r="2.9" fill="#1f77b4" stroke="#fff" stroke-width="0.5"/>
<circle cx="1457.19" cy="108.3" r="2.9" fill="#ff7f0e" stroke="#fff" stroke-width="0.5"/>
<circle cx="1457.19" cy="124.3" r="2.9" fill="#ff7f0e" stroke="#fff" stroke-width="0.5"/>
<circle cx="1457.19" cy="130.46" r="2.9" fill="#ff7f0e" stroke="#fff" stroke-width="0.5"/>
<circle cx="1457.19" cy="136.62" r="2.9" fill="#ff7f0e" stroke="#fff" stroke-width="0.5"/>
<circle cx="1457.19" cy="139.35" r="2.9" fill="#ff7f0e" stroke="#fff" stroke-width="0.5"/>
<circle cx="1457.19" cy="144.83" r="2.9" fill="#ff7f0e" stroke="#fff" stroke-width="0.5"/>
<circle cx="1457.19" cy="149.62" r="2.9" fill="#ff7f0e" stroke="#fff" stroke-width="0.5"/>
<circle cx="1457.19" cy="157.14" r="2.9" fill="#ff7f0e" stroke="#fff" stroke-width="0.5"/>
<circle cx="1457.19" cy="161.25" r="2.9" fill="#ff7f0e" stroke="#fff" stroke-width="0.5"/>
<circle cx="1457.19" cy="165.35" r="2.9" fill="#ff7f0e" stroke="#fff" stroke-width="0.5"/>
</g>
<rect x="1298.6" y="68.4" width="205.3" height="148.5" fill="none" stroke="#333" stroke-width="1.3"/>
<line x1="1293.6" y1="216.9" x2="1298.6" y2="216.9" stroke="#222" stroke-width="1.3"/>
<line x1="1293.6" y1="179.78" x2="1298.6" y2="179.78" stroke="#222" stroke-width="1.3"/>
<text class="d" x="1291.2" y="187.78" font-size="19" text-anchor="end">0.5</text>
<line x1="1293.6" y1="142.65" x2="1298.6" y2="142.65" stroke="#222" stroke-width="1.3"/>
<text class="d" x="1291.2" y="150.65" font-size="19" text-anchor="end">1.0</text>
<line x1="1293.6" y1="105.53" x2="1298.6" y2="105.53" stroke="#222" stroke-width="1.3"/>
<text class="d" x="1291.2" y="113.53" font-size="19" text-anchor="end">1.5</text>
<line x1="1293.6" y1="68.4" x2="1298.6" y2="68.4" stroke="#222" stroke-width="1.3"/>
<text class="d" x="1291.2" y="76.4" font-size="19" text-anchor="end">2.0</text>
<line x1="1298.6" y1="216.9" x2="1298.6" y2="221.9" stroke="#222" stroke-width="1.3"/>
<text class="d" x="1294.4" y="238.3" font-size="18.4" text-anchor="middle">0</text>
<line x1="1332.82" y1="216.9" x2="1332.82" y2="221.9" stroke="#222" stroke-width="1.3"/>
<text class="d" x="1329.3" y="238.3" font-size="18.4" text-anchor="middle">5</text>
<line x1="1367.04" y1="216.9" x2="1367.04" y2="221.9" stroke="#222" stroke-width="1.3"/>
<text class="d" x="1364.7" y="238.3" font-size="18.4" text-anchor="middle">10</text>
<line x1="1401.26" y1="216.9" x2="1401.26" y2="221.9" stroke="#222" stroke-width="1.3"/>
<text class="d" x="1400.7" y="238.3" font-size="18.4" text-anchor="middle">15</text>
<line x1="1435.48" y1="216.9" x2="1435.48" y2="221.9" stroke="#222" stroke-width="1.3"/>
<text class="d" x="1432.8" y="238.3" font-size="18.4" text-anchor="middle">20</text>
<line x1="1469.7" y1="216.9" x2="1469.7" y2="221.9" stroke="#222" stroke-width="1.3"/>
<text class="d" x="1464.6" y="238.3" font-size="18.4" text-anchor="middle">25</text>
<line x1="1503.92" y1="216.9" x2="1503.92" y2="221.9" stroke="#222" stroke-width="1.3"/>
<text class="d" x="1498.6" y="238.3" font-size="18.4" text-anchor="middle">30</text>
<text class="a" x="1411.9" y="264.7" font-size="25" text-anchor="middle">Time (days)</text>
<text class="a" x="1245.7" y="138.8" font-size="27.5" text-anchor="middle" transform="rotate(-90 1245.7 138.8)" stroke="#000" stroke-width="0.4">BI (LR cm<tspan dx="0.5" dy="-12.6" font-size="26">-1</tspan><tspan dx="4.6" dy="12.6" font-size="27.5">)</tspan></text>
</g>
<g id="panel-c">
<text class="a" x="-1.3" y="605.8" font-size="37.5" font-weight="bold">c</text>
<rect x="61.2" y="611.8" width="672.9" height="484" rx="50" ry="50" fill="#f2f2f2" stroke="#b3b3b3" stroke-width="8"/>
<text class="a" x="98.7" y="675.2" font-size="27.5" text-anchor="middle" transform="rotate(-90 98.7 675.2)">shoot</text>
<line x1="115.3" y1="624.4" x2="115.3" y2="713" stroke="#000" stroke-width="3"/>
<text class="a" x="98.7" y="860.5" font-size="27.5" text-anchor="middle" transform="rotate(-90 98.7 860.5)">root</text>
<line x1="115.3" y1="768.8" x2="115.3" y2="937.3" stroke="#000" stroke-width="3"/>
<text class="a" x="176.8" y="655.8" font-size="24.6" text-anchor="middle" fill="#b0622f">Shoot</text>
<text class="a" x="179.5" y="684.4" font-size="24.6" text-anchor="middle" fill="#b0622f">size</text>
<text class="a" x="381.5" y="645.8" font-size="24.6" text-anchor="middle">Carbon</text>
<text class="a" x="378.5" y="674.4" font-size="24.6" text-anchor="middle">availability</text>
<text class="a" x="183" y="781.7" font-size="24.6" text-anchor="middle" fill="#b0622f">RAM</text>
<text class="a" x="177.4" y="809.7" font-size="24.6" text-anchor="middle" fill="#b0622f">anisotropy</text>
<text class="a" x="370" y="780.3" font-size="24.6" text-anchor="middle">Meristimatic</text>
<text class="a" x="367.5" y="808.9" font-size="24.6" text-anchor="middle">cell division</text>
<text class="a" x="609.5" y="712.5" font-size="24.6" text-anchor="middle">Radial</text>
<text class="a" x="607.5" y="740.8" font-size="24.6" text-anchor="middle">expansion</text>
<text class="a" x="687.8" y="823.2" font-size="24.6" text-anchor="middle">Root</text>
<text class="a" x="678.3" y="851.8" font-size="24.6" text-anchor="middle">biomass</text>
<text class="a" x="593.5" y="916.7" font-size="24.6" text-anchor="middle">Total</text>
<text class="a" x="591.5" y="944.9" font-size="24.6" text-anchor="middle">root</text>
<text class="a" x="599.7" y="973.9" font-size="24.6" text-anchor="middle">length</text>
<text class="a" x="381.5" y="913.8" font-size="24.6" text-anchor="middle">Root</text>
<text class="a" x="378.2" y="943" font-size="24.6" text-anchor="middle">growth</text>
<text class="a" x="180.8" y="915" font-size="24.6" text-anchor="middle" fill="#b0622f">Meristem</text>
<text class="a" x="180.8" y="943" font-size="24.6" text-anchor="middle" fill="#b0622f">size</text>
<text class="a" x="377.6" y="1024" font-size="24.6" text-anchor="middle">Lateral</text>
<text class="a" x="374.5" y="1052.6" font-size="24.6" text-anchor="middle">root</text>
<text class="a" x="375.5" y="1081.2" font-size="24.6" text-anchor="middle">number</text>
<line x1="231" y1="654.5" x2="297.2" y2="653.61" stroke="#000" stroke-width="4.5"/>
<path d="M312.7 653.4 L293.8 660.91 L297.2 653.61 L293.6 646.41 Z" fill="#000"/>
<line x1="380.8" y1="690" x2="380.19" y2="739" stroke="#000" stroke-width="4.5"/>
<path d="M380 754.5 L372.99 735.41 L380.19 739 L387.49 735.59 Z" fill="#000"/>
<line x1="241.7" y1="789.2" x2="286.3" y2="788.61" stroke="#000" stroke-width="4.5"/>
<path d="M301.8 788.4 L282.9 795.9 L286.3 788.61 L282.71 781.4 Z" fill="#000"/>
<line x1="382.2" y1="826.9" x2="381.29" y2="875.5" stroke="#000" stroke-width="4.5"/>
<path d="M381 891 L374.11 871.87 L381.29 875.5 L388.6 872.14 Z" fill="#000"/>
<line x1="251.2" y1="912" x2="316.9" y2="911.19" stroke="#000" stroke-width="4.5"/>
<path d="M332.4 911 L313.49 918.48 L316.9 911.19 L313.31 903.98 Z" fill="#000"/>
<line x1="439.5" y1="926" x2="551.8" y2="924.77" stroke="#000" stroke-width="4.5"/>
<path d="M567.3 924.6 L548.38 932.06 L551.8 924.77 L548.22 917.56 Z" fill="#000"/>
<line x1="644.6" y1="747.4" x2="676.98" y2="785.58" stroke="#000" stroke-width="4.5"/>
<path d="M687 797.4 L669.18 787.6 L676.98 785.58 L680.24 778.22 Z" fill="#000"/>
<line x1="635.1" y1="913.8" x2="667.48" y2="875.62" stroke="#000" stroke-width="4.5"/>
<path d="M677.5 863.8 L670.74 882.98 L667.48 875.62 L659.68 873.6 Z" fill="#000"/>
<path d="M188.8 753.7 C250 728 320 718.5 400 717.6 L530.7 717.6" fill="none" stroke="#000" stroke-width="4.5"/>
<line x1="530.7" y1="693.6" x2="530.7" y2="742.5" stroke="#000" stroke-width="4.8"/>
<path d="M180.2 960.2 C178 1012 200 1032 250 1032 L312 1032" fill="none" stroke="#000" stroke-width="4.5"/>
<path d="M327.5 1032 L308.5 1039.25 L312 1032 L308.5 1024.75 Z" fill="#000"/>
<path d="M459.5 784.6 C505 786 523 860 523 910 C523 960 500 1018 444 1029.5" fill="none" stroke="#000" stroke-width="4.5"/>
<path d="M428.6 1033 L445.67 1021.96 L443.76 1029.78 L448.69 1036.14 Z" fill="#000"/>
<path d="M440 1061.2 L520 1061.2 C575 1061 602 1045 605.5 1000" fill="none" stroke="#000" stroke-width="4.5"/>
<path d="M606.8 984.5 L612.51 1004.02 L605.56 999.95 L598.05 1002.86 Z" fill="#000"/>
</g>
<g id="panel-g">
<text class="a" x="839" y="605.6" font-size="37.5" font-weight="bold">g</text>
<text class="a" x="927.6" y="845.2" font-size="37.2" text-anchor="middle" transform="rotate(-90 927.6 845.2)">Root FW (mg)</text>
<clipPath id="clipg"><rect x="983.6" y="615.8" width="471" height="438.7"/></clipPath>
<g clip-path="url(#clipg)">
<rect x="984.7" y="645.7" width="40.2" height="40.2" fill="#67000d" stroke="#848484" stroke-width="3"/>
<circle cx="1006.2" cy="637.2" r="20.1" fill="#67000d" stroke="#848484" stroke-width="3"/>
</g>
<rect x="998" y="996" width="14" height="14" fill="#fff5f0" stroke="#848484" stroke-width="3"/>
<rect x="1050" y="975.1" width="16.4" height="16.4" fill="#fee5d9" stroke="#848484" stroke-width="3"/>
<rect x="1103.1" y="965" width="17.2" height="17.2" fill="#fdd3c1" stroke="#848484" stroke-width="3"/>
<rect x="1208.5" y="841.6" width="20.4" height="20.4" fill="#fcbfa9" stroke="#848484" stroke-width="3"/>
<rect x="1315.1" y="806.8" width="21" height="21" fill="#fcbba1" stroke="#848484" stroke-width="3"/>
<rect x="1420.8" y="697.5" width="24.4" height="24.4" fill="#fc9272" stroke="#848484" stroke-width="3"/>
<circle cx="1005" cy="1034.8" r="5" fill="#fff5f0" stroke="#848484" stroke-width="3"/>
<circle cx="1058.2" cy="1007.9" r="5.8" fill="#fee5d9" stroke="#848484" stroke-width="3"/>
<circle cx="1111.7" cy="972.1" r="6.8" fill="#fdd3c1" stroke="#848484" stroke-width="3"/>
<circle cx="1218.7" cy="922.4" r="9" fill="#fdcab5" stroke="#848484" stroke-width="3"/>
<circle cx="1325.6" cy="863.4" r="10.7" fill="#fcb499" stroke="#848484" stroke-width="3"/>
<circle cx="1433" cy="775.1" r="12.5" fill="#fc9272" stroke="#848484" stroke-width="3"/>
<rect x="983.6" y="615.8" width="471" height="438.7" fill="none" stroke="#000" stroke-width="2.5"/>
<line x1="975.1" y1="1019" x2="983.6" y2="1019" stroke="#000" stroke-width="2"/>
<text class="a" x="969.5" y="1031.9" font-size="37.2" text-anchor="end">1</text>
<line x1="975.1" y1="962.3" x2="983.6" y2="962.3" stroke="#000" stroke-width="2"/>
<text class="a" x="969.5" y="975.2" font-size="37.2" text-anchor="end">2</text>
<line x1="975.1" y1="905.6" x2="983.6" y2="905.6" stroke="#000" stroke-width="2"/>
<text class="a" x="969.5" y="918.5" font-size="37.2" text-anchor="end">3</text>
<line x1="975.1" y1="848.9" x2="983.6" y2="848.9" stroke="#000" stroke-width="2"/>
<text class="a" x="969.5" y="861.8" font-size="37.2" text-anchor="end">4</text>
<line x1="975.1" y1="792.2" x2="983.6" y2="792.2" stroke="#000" stroke-width="2"/>
<text class="a" x="969.5" y="805.1" font-size="37.2" text-anchor="end">5</text>
<line x1="975.1" y1="735.5" x2="983.6" y2="735.5" stroke="#000" stroke-width="2"/>
<text class="a" x="969.5" y="748.4" font-size="37.2" text-anchor="end">6</text>
<line x1="975.1" y1="678.8" x2="983.6" y2="678.8" stroke="#000" stroke-width="2"/>
<text class="a" x="969.5" y="691.7" font-size="37.2" text-anchor="end">7</text>
<line x1="975.1" y1="622.1" x2="983.6" y2="622.1" stroke="#000" stroke-width="2"/>
<text class="a" x="969.5" y="635" font-size="37.2" text-anchor="end">8</text>
<line x1="1004.7" y1="1054.5" x2="1004.7" y2="1063" stroke="#000" stroke-width="2"/>
<text class="a" x="1004.4" y="1100.6" font-size="37.2" text-anchor="middle">0</text>
<line x1="1111.75" y1="1054.5" x2="1111.75" y2="1063" stroke="#000" stroke-width="2"/>
<text class="a" x="1111.45" y="1100.6" font-size="37.2" text-anchor="middle">0.5</text>
<line x1="1218.8" y1="1054.5" x2="1218.8" y2="1063" stroke="#000" stroke-width="2"/>
<text class="a" x="1218.5" y="1100.6" font-size="37.2" text-anchor="middle">1</text>
<line x1="1325.85" y1="1054.5" x2="1325.85" y2="1063" stroke="#000" stroke-width="2"/>
<text class="a" x="1325.55" y="1100.6" font-size="37.2" text-anchor="middle">1.5</text>
<line x1="1432.9" y1="1054.5" x2="1432.9" y2="1063" stroke="#000" stroke-width="2"/>
<text class="a" x="1432.6" y="1100.6" font-size="37.2" text-anchor="middle">2</text>
<text class="a" x="1246.5" y="1161.5" font-size="37.2" text-anchor="middle">Sugar Concentration (%)</text>
<text class="a" x="1048.2" y="653.8" font-size="37.2">WT</text>
<line x1="1025.3" y1="685.8" x2="1055" y2="669.8" stroke="#4f8f4f" stroke-width="3.4" stroke-linecap="round"/>
<line x1="1025.3" y1="685.8" x2="1006.7" y2="713.9" stroke="#0000ff" stroke-width="3.4" stroke-linecap="round"/>
<line x1="1025.3" y1="685.8" x2="1046" y2="708.2" stroke="#000" stroke-width="3.4" stroke-linecap="round"/>
<text class="a" x="1056" y="696.7" font-size="30" fill="#4f8f4f">100</text>
<text class="a" x="989.3" y="742.5" font-size="30" fill="#0000ff">100</text>
<text class="a" x="1047" y="735" font-size="30">100</text>
<line x1="1419.6" y1="699.6" x2="1413.3" y2="667.7" stroke="#4f8f4f" stroke-width="3.4" stroke-linecap="round"/>
<line x1="1419.6" y1="699.6" x2="1387.7" y2="690.5" stroke="#000" stroke-width="3.4" stroke-linecap="round"/>
<line x1="1419.6" y1="699.6" x2="1390.5" y2="713.3" stroke="#0000ff" stroke-width="3.4" stroke-linecap="round"/>
<text class="a" x="1384.6" y="664.6" font-size="30" fill="#4f8f4f">90</text>
<text class="a" x="1345.8" y="704.7" font-size="30">44</text>
<text class="a" x="1360" y="741" font-size="30" fill="#0000ff">41</text>
<text class="a" x="1482" y="641" font-size="37" word-spacing="1.5">Total length (%)</text>
<defs><linearGradient id="gradReds" x1="0" y1="0" x2="0" y2="1"><stop offset="0" stop-color="#67000d"/><stop offset="0.06" stop-color="#860811"/><stop offset="0.12" stop-color="#a50f15"/><stop offset="0.19" stop-color="#b81419"/><stop offset="0.25" stop-color="#cb181d"/><stop offset="0.31" stop-color="#dd2a24"/><stop offset="0.38" stop-color="#ef3b2c"/><stop offset="0.44" stop-color="#f5523b"/><stop offset="0.5" stop-color="#fb6a4a"/><stop offset="0.56" stop-color="#fc7e5e"/><stop offset="0.62" stop-color="#fc9272"/><stop offset="0.69" stop-color="#fca68a"/><stop offset="0.75" stop-color="#fcbba1"/><stop offset="0.81" stop-color="#fdceba"/><stop offset="0.88" stop-color="#fee0d2"/><stop offset="0.94" stop-color="#feeae1"/><stop offset="1" stop-color="#fff5f0"/></linearGradient></defs>
<rect x="1480.5" y="664.5" width="26.8" height="195" fill="url(#gradReds)" stroke="#000" stroke-width="2.3"/>
<line x1="1508" y1="666.9" x2="1518.4" y2="666.9" stroke="#000" stroke-width="2.1"/>
<text class="a" x="1520.8" y="679.5" font-size="37.3">60</text>
<line x1="1508" y1="700.22" x2="1518.4" y2="700.22" stroke="#000" stroke-width="2.1"/>
<text class="a" x="1520.8" y="712.82" font-size="37.3">50</text>
<line x1="1508" y1="733.54" x2="1518.4" y2="733.54" stroke="#000" stroke-width="2.1"/>
<text class="a" x="1520.8" y="746.14" font-size="37.3">40</text>
<line x1="1508" y1="766.86" x2="1518.4" y2="766.86" stroke="#000" stroke-width="2.1"/>
<text class="a" x="1520.8" y="779.46" font-size="37.3">30</text>
<line x1="1508" y1="800.18" x2="1518.4" y2="800.18" stroke="#000" stroke-width="2.1"/>
<text class="a" x="1520.8" y="812.78" font-size="37.3">20</text>
<line x1="1508" y1="833.5" x2="1518.4" y2="833.5" stroke="#000" stroke-width="2.1"/>
<text class="a" x="1520.8" y="846.1" font-size="37.3">10</text>
<text class="a" x="1481.6" y="917.6" font-size="37">LR number (%)</text>
<circle cx="1511.8" cy="938.9" r="4.4" fill="#fff" stroke="#848484" stroke-width="3"/>
<text class="a" x="1541.8" y="957.7" font-size="37.2">25</text>
<circle cx="1511.8" cy="969.7" r="6.8" fill="#fff" stroke="#848484" stroke-width="3"/>
<text class="a" x="1541.8" y="994.7" font-size="37.2">50</text>
<circle cx="1511.8" cy="1006.1" r="10.2" fill="#fff" stroke="#848484" stroke-width="3"/>
<text class="a" x="1541.8" y="1031.8" font-size="37.2">75</text>
<circle cx="1511.8" cy="1053.7" r="17.8" fill="#fff" stroke="#848484" stroke-width="3"/>
<text class="a" x="1542.8" y="1070.2" font-size="37.2">100</text>
<circle cx="1511.8" cy="1118.4" r="11.6" fill="#fff" stroke="#848484" stroke-width="3"/>
<text class="a" x="1542.3" y="1128.5" font-size="37.2">model</text>
<rect x="1497.8" y="1140.5" width="28" height="28" fill="#fff" stroke="#848484" stroke-width="3"/>
<text class="a" x="1542" y="1165.8" font-size="37.2">data</text>
</g>
<g id="panel-d">
<text class="a" x="-1.5" y="1200.7" font-size="37.5" font-weight="bold">d</text>
<text class="a" x="487" y="1235.6" font-size="37.2" text-anchor="middle">Lateral root number</text>
<text class="a" x="913.5" y="1235.6" font-size="37.2" text-anchor="middle">Total root length</text>
<text class="a" x="1341" y="1235.6" font-size="37.2" text-anchor="middle">Root biomass</text>
<text class="a" x="30" y="1406.7" font-size="37.2" text-anchor="middle" transform="rotate(-90 30 1406.7)">Prediction</text>
<text class="a" x="30" y="1714" font-size="37.2" text-anchor="middle" transform="rotate(-90 30 1714)">Data</text>
<rect x="313.5" y="1253.2" width="127.6" height="73.5" fill="#a5cd90"/>
<rect x="440.5" y="1253.2" width="127.6" height="73.5" fill="#a5cd90"/>
<rect x="567.5" y="1253.2" width="127.6" height="73.5" fill="#a5cd90"/>
<rect x="313.5" y="1326.1" width="127.6" height="73.5" fill="#1c6388"/>
<rect x="440.5" y="1326.1" width="127.6" height="73.5" fill="#55a190"/>
<rect x="567.5" y="1326.1" width="127.6" height="73.5" fill="#6aaf90"/>
<rect x="313.5" y="1399" width="127.6" height="73.5" fill="#25748b"/>
<rect x="440.5" y="1399" width="127.6" height="73.5" fill="#1e5e86"/>
<rect x="567.5" y="1399" width="127.6" height="73.5" fill="#1e5f86"/>
<rect x="313.5" y="1471.9" width="127.6" height="73.5" fill="#62aa90"/>
<rect x="440.5" y="1471.9" width="127.6" height="73.5" fill="#509d8f"/>
<rect x="567.5" y="1471.9" width="127.6" height="73.5" fill="#36878d"/>
<text class="d" x="377.3" y="1295.75" font-size="19.9" text-anchor="middle" fill="#262626">1</text>
<text class="d" x="504.3" y="1295.75" font-size="19.9" text-anchor="middle" fill="#262626">1</text>
<text class="d" x="631.3" y="1295.75" font-size="19.9" text-anchor="middle" fill="#262626">1</text>
<text class="d" x="377.3" y="1368.65" font-size="19.9" text-anchor="middle" fill="#ffffff">0.28</text>
<text class="d" x="504.3" y="1368.65" font-size="19.9" text-anchor="middle" fill="#ffffff">0.69</text>
<text class="d" x="631.3" y="1368.65" font-size="19.9" text-anchor="middle" fill="#ffffff">0.78</text>
<text class="d" x="377.3" y="1441.55" font-size="19.9" text-anchor="middle" fill="#ffffff">0.39</text>
<text class="d" x="504.3" y="1441.55" font-size="19.9" text-anchor="middle" fill="#ffffff">0.25</text>
<text class="d" x="631.3" y="1441.55" font-size="19.9" text-anchor="middle" fill="#ffffff">0.26</text>
<text class="d" x="377.3" y="1514.45" font-size="19.9" text-anchor="middle" fill="#ffffff">0.75</text>
<text class="d" x="504.3" y="1514.45" font-size="19.9" text-anchor="middle" fill="#ffffff">0.66</text>
<text class="d" x="631.3" y="1514.45" font-size="19.9" text-anchor="middle" fill="#ffffff">0.51</text>
<rect x="730.6" y="1249.8" width="127.8" height="73.25" fill="#a5cd90"/>
<rect x="857.8" y="1249.8" width="127.8" height="73.25" fill="#a5cd90"/>
<rect x="985" y="1249.8" width="127.8" height="73.25" fill="#a5cd90"/>
<rect x="730.6" y="1322.45" width="127.8" height="73.25" fill="#25748b"/>
<rect x="857.8" y="1322.45" width="127.8" height="73.25" fill="#34858d"/>
<rect x="985" y="1322.45" width="127.8" height="73.25" fill="#49978f"/>
<rect x="730.6" y="1395.1" width="127.8" height="73.25" fill="#1c6388"/>
<rect x="857.8" y="1395.1" width="127.8" height="73.25" fill="#205a84"/>
<rect x="985" y="1395.1" width="127.8" height="73.25" fill="#215783"/>
<rect x="730.6" y="1467.75" width="127.8" height="73.25" fill="#7eba91"/>
<rect x="857.8" y="1467.75" width="127.8" height="73.25" fill="#49978f"/>
<rect x="985" y="1467.75" width="127.8" height="73.25" fill="#37888d"/>
<text class="d" x="794.5" y="1292.22" font-size="19.9" text-anchor="middle" fill="#262626">1</text>
<text class="d" x="921.7" y="1292.22" font-size="19.9" text-anchor="middle" fill="#262626">1</text>
<text class="d" x="1048.9" y="1292.22" font-size="19.9" text-anchor="middle" fill="#262626">1</text>
<text class="d" x="794.5" y="1364.87" font-size="19.9" text-anchor="middle" fill="#ffffff">0.39</text>
<text class="d" x="921.7" y="1364.87" font-size="19.9" text-anchor="middle" fill="#ffffff">0.5</text>
<text class="d" x="1048.9" y="1364.87" font-size="19.9" text-anchor="middle" fill="#ffffff">0.62</text>
<text class="d" x="794.5" y="1437.52" font-size="19.9" text-anchor="middle" fill="#ffffff">0.28</text>
<text class="d" x="921.7" y="1437.52" font-size="19.9" text-anchor="middle" fill="#ffffff">0.23</text>
<text class="d" x="1048.9" y="1437.52" font-size="19.9" text-anchor="middle" fill="#ffffff">0.21</text>
<text class="d" x="794.5" y="1510.17" font-size="19.9" text-anchor="middle" fill="#262626">0.86</text>
<text class="d" x="921.7" y="1510.17" font-size="19.9" text-anchor="middle" fill="#ffffff">0.62</text>
<text class="d" x="1048.9" y="1510.17" font-size="19.9" text-anchor="middle" fill="#ffffff">0.52</text>
<rect x="1142.6" y="1249.1" width="128.07" height="73.4" fill="#a5cd90"/>
<rect x="1270.07" y="1249.1" width="128.07" height="73.4" fill="#a5cd90"/>
<rect x="1397.54" y="1249.1" width="128.07" height="73.4" fill="#a5cd90"/>
<rect x="1142.6" y="1321.9" width="128.07" height="73.4" fill="#45948e"/>
<rect x="1270.07" y="1321.9" width="128.07" height="73.4" fill="#6aaf90"/>
<rect x="1397.54" y="1321.9" width="128.07" height="73.4" fill="#9dc990"/>
<rect x="1142.6" y="1394.7" width="128.07" height="73.4" fill="#1c6388"/>
<rect x="1270.07" y="1394.7" width="128.07" height="73.4" fill="#205a84"/>
<rect x="1397.54" y="1394.7" width="128.07" height="73.4" fill="#215783"/>
<rect x="1142.6" y="1467.5" width="128.07" height="73.4" fill="#7eba91"/>
<rect x="1270.07" y="1467.5" width="128.07" height="73.4" fill="#49978f"/>
<rect x="1397.54" y="1467.5" width="128.07" height="73.4" fill="#37888d"/>
<text class="d" x="1206.63" y="1291.6" font-size="19.9" text-anchor="middle" fill="#262626">1</text>
<text class="d" x="1334.11" y="1291.6" font-size="19.9" text-anchor="middle" fill="#262626">1</text>
<text class="d" x="1461.58" y="1291.6" font-size="19.9" text-anchor="middle" fill="#262626">1</text>
<text class="d" x="1206.63" y="1364.4" font-size="19.9" text-anchor="middle" fill="#ffffff">0.6</text>
<text class="d" x="1334.11" y="1364.4" font-size="19.9" text-anchor="middle" fill="#ffffff">0.78</text>
<text class="d" x="1461.58" y="1364.4" font-size="19.9" text-anchor="middle" fill="#262626">0.97</text>
<text class="d" x="1206.63" y="1437.2" font-size="19.9" text-anchor="middle" fill="#ffffff">0.28</text>
<text class="d" x="1334.11" y="1437.2" font-size="19.9" text-anchor="middle" fill="#ffffff">0.23</text>
<text class="d" x="1461.58" y="1437.2" font-size="19.9" text-anchor="middle" fill="#ffffff">0.21</text>
<text class="d" x="1206.63" y="1510" font-size="19.9" text-anchor="middle" fill="#262626">0.86</text>
<text class="d" x="1334.11" y="1510" font-size="19.9" text-anchor="middle" fill="#ffffff">0.62</text>
<text class="d" x="1461.58" y="1510" font-size="19.9" text-anchor="middle" fill="#ffffff">0.52</text>
<rect x="309.6" y="1560.3" width="129.03" height="73.8" fill="#a5cd90"/>
<rect x="438.03" y="1560.3" width="129.03" height="73.8" fill="#a5cd90"/>
<rect x="566.46" y="1560.3" width="129.03" height="73.8" fill="#a5cd90"/>
<rect x="309.6" y="1633.5" width="129.03" height="73.8" fill="#206b89"/>
<rect x="438.03" y="1633.5" width="129.03" height="73.8" fill="#3c8d8e"/>
<rect x="566.46" y="1633.5" width="129.03" height="73.8" fill="#9fca90"/>
<rect x="309.6" y="1706.7" width="129.03" height="73.8" fill="#206b89"/>
<rect x="438.03" y="1706.7" width="129.03" height="73.8" fill="#27437b"/>
<rect x="566.46" y="1706.7" width="129.03" height="73.8" fill="#254c7f"/>
<rect x="309.6" y="1779.9" width="129.03" height="73.8" fill="#519f8f"/>
<rect x="438.03" y="1779.9" width="129.03" height="73.8" fill="#216e8a"/>
<rect x="566.46" y="1779.9" width="129.03" height="73.8" fill="#2a7c8c"/>
<text class="d" x="374.12" y="1603" font-size="19.9" text-anchor="middle" fill="#262626">1</text>
<text class="d" x="502.54" y="1603" font-size="19.9" text-anchor="middle" fill="#262626">1</text>
<text class="d" x="630.98" y="1603" font-size="19.9" text-anchor="middle" fill="#262626">1</text>
<text class="d" x="374.12" y="1676.2" font-size="19.9" text-anchor="middle" fill="#ffffff">0.33</text>
<text class="d" x="502.54" y="1676.2" font-size="19.9" text-anchor="middle" fill="#ffffff">0.55</text>
<text class="d" x="630.98" y="1676.2" font-size="19.9" text-anchor="middle" fill="#262626">0.98</text>
<text class="d" x="374.12" y="1749.4" font-size="19.9" text-anchor="middle" fill="#ffffff">0.33</text>
<text class="d" x="502.54" y="1749.4" font-size="19.9" text-anchor="middle" fill="#ffffff">0.1</text>
<text class="d" x="630.98" y="1749.4" font-size="19.9" text-anchor="middle" fill="#ffffff">0.15</text>
<text class="d" x="374.12" y="1822.6" font-size="19.9" text-anchor="middle" fill="#ffffff">0.67</text>
<text class="d" x="502.54" y="1822.6" font-size="19.9" text-anchor="middle" fill="#ffffff">0.35</text>
<text class="d" x="630.98" y="1822.6" font-size="19.9" text-anchor="middle" fill="#ffffff">0.44</text>
<rect x="729.8" y="1560.3" width="128.9" height="73.8" fill="#a5cd90"/>
<rect x="858.1" y="1560.3" width="128.9" height="73.8" fill="#a5cd90"/>
<rect x="986.4" y="1560.3" width="128.9" height="73.8" fill="#a5cd90"/>
<rect x="729.8" y="1633.5" width="128.9" height="73.8" fill="#3c8d8e"/>
<rect x="858.1" y="1633.5" width="128.9" height="73.8" fill="#55a190"/>
<rect x="986.4" y="1633.5" width="128.9" height="73.8" fill="#62aa90"/>
<rect x="729.8" y="1706.7" width="128.9" height="73.8" fill="#3b8b8e"/>
<rect x="858.1" y="1706.7" width="128.9" height="73.8" fill="#24728b"/>
<rect x="986.4" y="1706.7" width="128.9" height="73.8" fill="#205a84"/>
<rect x="729.8" y="1779.9" width="128.9" height="73.8" fill="#9dc990"/>
<rect x="858.1" y="1779.9" width="128.9" height="73.8" fill="#55a190"/>
<rect x="986.4" y="1779.9" width="128.9" height="73.8" fill="#23718a"/>
<text class="d" x="794.25" y="1603" font-size="19.9" text-anchor="middle" fill="#262626">1</text>
<text class="d" x="922.55" y="1603" font-size="19.9" text-anchor="middle" fill="#262626">1</text>
<text class="d" x="1050.85" y="1603" font-size="19.9" text-anchor="middle" fill="#262626">1</text>
<text class="d" x="794.25" y="1676.2" font-size="19.9" text-anchor="middle" fill="#ffffff">0.55</text>
<text class="d" x="922.55" y="1676.2" font-size="19.9" text-anchor="middle" fill="#ffffff">0.69</text>
<text class="d" x="1050.85" y="1676.2" font-size="19.9" text-anchor="middle" fill="#ffffff">0.75</text>
<text class="d" x="794.25" y="1749.4" font-size="19.9" text-anchor="middle" fill="#ffffff">0.54</text>
<text class="d" x="922.55" y="1749.4" font-size="19.9" text-anchor="middle" fill="#ffffff">0.38</text>
<text class="d" x="1050.85" y="1749.4" font-size="19.9" text-anchor="middle" fill="#ffffff">0.23</text>
<text class="d" x="794.25" y="1822.6" font-size="19.9" text-anchor="middle" fill="#262626">0.97</text>
<text class="d" x="922.55" y="1822.6" font-size="19.9" text-anchor="middle" fill="#ffffff">0.69</text>
<text class="d" x="1050.85" y="1822.6" font-size="19.9" text-anchor="middle" fill="#ffffff">0.37</text>
<rect x="1396.56" y="1560.3" width="129.03" height="73.8" fill="#a5cd90"/>
<rect x="1396.56" y="1633.5" width="129.03" height="73.8" fill="#8fc291"/>
<rect x="1396.56" y="1706.7" width="129.03" height="73.8" fill="#24728b"/>
<rect x="1396.56" y="1779.9" width="129.03" height="73.8" fill="#1e6889"/>
<text class="d" x="1461.08" y="1603" font-size="19.9" text-anchor="middle" fill="#262626">1</text>
<text class="d" x="1461.08" y="1676.2" font-size="19.9" text-anchor="middle" fill="#262626">0.92</text>
<text class="d" x="1461.08" y="1749.4" font-size="19.9" text-anchor="middle" fill="#ffffff">0.38</text>
<text class="d" x="1461.08" y="1822.6" font-size="19.9" text-anchor="middle" fill="#ffffff">0.31</text>
<line x1="307.3" y1="1283.9" x2="313.8" y2="1283.9" stroke="#000" stroke-width="1.5"/>
<line x1="724.2" y1="1283.9" x2="730.9" y2="1283.9" stroke="#000" stroke-width="1.5"/>
<line x1="1135.7" y1="1283.9" x2="1142.9" y2="1283.9" stroke="#000" stroke-width="1.5"/>
<line x1="307.3" y1="1357" x2="313.8" y2="1357" stroke="#000" stroke-width="1.5"/>
<line x1="724.2" y1="1357" x2="730.9" y2="1357" stroke="#000" stroke-width="1.5"/>
<line x1="1135.7" y1="1357" x2="1142.9" y2="1357" stroke="#000" stroke-width="1.5"/>
<line x1="307.3" y1="1430.9" x2="313.8" y2="1430.9" stroke="#000" stroke-width="1.5"/>
<line x1="724.2" y1="1430.9" x2="730.9" y2="1430.9" stroke="#000" stroke-width="1.5"/>
<line x1="1135.7" y1="1430.9" x2="1142.9" y2="1430.9" stroke="#000" stroke-width="1.5"/>
<line x1="307.3" y1="1503" x2="313.8" y2="1503" stroke="#000" stroke-width="1.5"/>
<line x1="724.2" y1="1503" x2="730.9" y2="1503" stroke="#000" stroke-width="1.5"/>
<line x1="1135.7" y1="1503" x2="1142.9" y2="1503" stroke="#000" stroke-width="1.5"/>
<line x1="303.6" y1="1596.7" x2="309.9" y2="1596.7" stroke="#000" stroke-width="1.5"/>
<line x1="723" y1="1596.7" x2="730.1" y2="1596.7" stroke="#000" stroke-width="1.5"/>
<line x1="1135.7" y1="1596.7" x2="1143.6" y2="1596.7" stroke="#000" stroke-width="1.5"/>
<line x1="303.6" y1="1670.2" x2="309.9" y2="1670.2" stroke="#000" stroke-width="1.5"/>
<line x1="723" y1="1670.2" x2="730.1" y2="1670.2" stroke="#000" stroke-width="1.5"/>
<line x1="1135.7" y1="1670.2" x2="1143.6" y2="1670.2" stroke="#000" stroke-width="1.5"/>
<line x1="303.6" y1="1743.9" x2="309.9" y2="1743.9" stroke="#000" stroke-width="1.5"/>
<line x1="723" y1="1743.9" x2="730.1" y2="1743.9" stroke="#000" stroke-width="1.5"/>
<line x1="1135.7" y1="1743.9" x2="1143.6" y2="1743.9" stroke="#000" stroke-width="1.5"/>
<line x1="303.6" y1="1816.3" x2="309.9" y2="1816.3" stroke="#000" stroke-width="1.5"/>
<line x1="723" y1="1816.3" x2="730.1" y2="1816.3" stroke="#000" stroke-width="1.5"/>
<line x1="1135.7" y1="1816.3" x2="1143.6" y2="1816.3" stroke="#000" stroke-width="1.5"/>
<line x1="374.6" y1="1853.2" x2="374.6" y2="1859.6" stroke="#000" stroke-width="1.5"/>
<line x1="502.7" y1="1853.2" x2="502.7" y2="1859.6" stroke="#000" stroke-width="1.5"/>
<line x1="630.9" y1="1853.2" x2="630.9" y2="1859.6" stroke="#000" stroke-width="1.5"/>
<line x1="794" y1="1853.2" x2="794" y2="1859.6" stroke="#000" stroke-width="1.5"/>
<line x1="922.2" y1="1853.2" x2="922.2" y2="1859.6" stroke="#000" stroke-width="1.5"/>
<line x1="1050.7" y1="1853.2" x2="1050.7" y2="1859.6" stroke="#000" stroke-width="1.5"/>
<line x1="1213.5" y1="1853.2" x2="1213.5" y2="1859.6" stroke="#000" stroke-width="1.5"/>
<line x1="1341.6" y1="1853.2" x2="1341.6" y2="1859.6" stroke="#000" stroke-width="1.5"/>
<line x1="1469.8" y1="1853.2" x2="1469.8" y2="1859.6" stroke="#000" stroke-width="1.5"/>
<text class="a" x="372" y="1898" font-size="37.2" text-anchor="middle">7</text>
<text class="a" x="499.4" y="1898" font-size="37.2" text-anchor="middle">14</text>
<text class="a" x="626.6" y="1898" font-size="37.2" text-anchor="middle">21</text>
<text class="a" x="796.6" y="1902" font-size="37.2" text-anchor="middle">7</text>
<text class="a" x="924.9" y="1902" font-size="37.2" text-anchor="middle">14</text>
<text class="a" x="1051.8" y="1902" font-size="37.2" text-anchor="middle">21</text>
<text class="a" x="1221.8" y="1905.8" font-size="37.2" text-anchor="middle">7</text>
<text class="a" x="1349.2" y="1905.8" font-size="37.2" text-anchor="middle">14</text>
<text class="a" x="1476.1" y="1905.8" font-size="37.2" text-anchor="middle">21</text>
<text class="a" x="912.4" y="1945.6" font-size="37.2" text-anchor="middle">Time after tomato grafting (days)</text>
<text class="a" x="77.8" y="1295.9" font-size="37.2"><tspan x="78" y="1295.9">WT</tspan><tspan x="137.2" y="1295.9" font-style="italic">/</tspan><tspan x="149.4" y="1295.9">WT</tspan></text>
<text class="a" x="77.8" y="1368.8" font-size="37.2"><tspan x="78" y="1368.8">WT</tspan><tspan x="137.2" y="1368.8" font-style="italic">/</tspan><tspan x="149.4" y="1368.8" font-style="italic">bri1</tspan><tspan x="209.6" y="1355.5" font-style="italic" font-size="27.5">cu3</tspan></text>
<text class="a" x="77.8" y="1441.8" font-size="37.2"><tspan x="78" y="1441.8" font-style="italic">bri1</tspan><tspan x="139.4" y="1428.5" font-style="italic" font-size="27.5">cu3</tspan><tspan x="184.8" y="1441.8" font-style="italic">/</tspan><tspan x="195.6" y="1441.8" font-style="italic">bri1</tspan><tspan x="256.4" y="1428.5" font-style="italic" font-size="27.5">cu3</tspan></text>
<text class="a" x="77.8" y="1515.8" font-size="37.2"><tspan x="78" y="1515.8" font-style="italic">bri1</tspan><tspan x="139.4" y="1502.5" font-style="italic" font-size="27.5">cu3</tspan><tspan x="184.8" y="1515.8" font-style="italic">/</tspan><tspan x="195.6" y="1515.8">WT</tspan></text>
<text class="a" x="77.8" y="1611.6" font-size="37.2"><tspan x="78" y="1611.6">WT</tspan><tspan x="137.2" y="1611.6" font-style="italic">/</tspan><tspan x="149.4" y="1611.6">WT</tspan></text>
<text class="a" x="77.8" y="1685.2" font-size="37.2"><tspan x="78" y="1685.2">WT</tspan><tspan x="137.2" y="1685.2" font-style="italic">/</tspan><tspan x="149.4" y="1685.2" font-style="italic">bri1</tspan><tspan x="209.6" y="1671.9" font-style="italic" font-size="27.5">cu3</tspan></text>
<text class="a" x="77.8" y="1758" font-size="37.2"><tspan x="78" y="1758" font-style="italic">bri1</tspan><tspan x="139.4" y="1744.7" font-style="italic" font-size="27.5">cu3</tspan><tspan x="184.8" y="1758" font-style="italic">/</tspan><tspan x="195.6" y="1758" font-style="italic">bri1</tspan><tspan x="256.4" y="1744.7" font-style="italic" font-size="27.5">cu3</tspan></text>
<text class="a" x="77.8" y="1831" font-size="37.2"><tspan x="78" y="1831" font-style="italic">bri1</tspan><tspan x="139.4" y="1817.7" font-style="italic" font-size="27.5">cu3</tspan><tspan x="184.8" y="1831" font-style="italic">/</tspan><tspan x="195.6" y="1831">WT</tspan></text>
<line x1="1548.3" y1="1386.2" x2="1548.3" y2="1349.2" stroke="#000" stroke-width="4.7"/>
<path d="M1548.3 1332.7 L1539.55 1350.2 L1548.3 1349.7 L1557.05 1350.2 Z" fill="#000"/>
<line x1="1549.5" y1="1407.3" x2="1549.5" y2="1445.6" stroke="#000" stroke-width="4.7"/>
<path d="M1549.5 1461.6 L1543 1442.1 L1549.5 1445.1 L1556 1442.1 Z" fill="#000"/>
<line x1="1548.3" y1="1481.9" x2="1548.3" y2="1519.8" stroke="#000" stroke-width="4.7"/>
<path d="M1548.3 1535.8 L1541.8 1516.3 L1548.3 1519.3 L1554.8 1516.3 Z" fill="#000"/>
<line x1="1548.3" y1="1696.7" x2="1548.3" y2="1658.9" stroke="#000" stroke-width="4.7"/>
<path d="M1548.3 1642.4 L1539.55 1659.9 L1548.3 1659.4 L1557.05 1659.9 Z" fill="#000"/>
<line x1="1549.5" y1="1717.4" x2="1549.5" y2="1755.7" stroke="#000" stroke-width="4.7"/>
<path d="M1549.5 1771.7 L1543 1752.2 L1549.5 1755.2 L1556 1752.2 Z" fill="#000"/>
<line x1="1548.3" y1="1791.5" x2="1548.3" y2="1829.9" stroke="#000" stroke-width="4.7"/>
<path d="M1548.3 1845.9 L1541.8 1826.4 L1548.3 1829.4 L1554.8 1826.4 Z" fill="#000"/>
<defs><linearGradient id="gradCrest" x1="0" y1="0" x2="0" y2="1"><stop offset="0" stop-color="#a5cd90"/><stop offset="0.04" stop-color="#9bc890"/><stop offset="0.07" stop-color="#91c490"/><stop offset="0.11" stop-color="#87bf91"/><stop offset="0.14" stop-color="#7dba91"/><stop offset="0.18" stop-color="#74b591"/><stop offset="0.21" stop-color="#6bb091"/><stop offset="0.25" stop-color="#62aa90"/><stop offset="0.29" stop-color="#59a590"/><stop offset="0.32" stop-color="#53a090"/><stop offset="0.36" stop-color="#4d9b8f"/><stop offset="0.39" stop-color="#46958f"/><stop offset="0.43" stop-color="#40908e"/><stop offset="0.46" stop-color="#3a8b8e"/><stop offset="0.5" stop-color="#34858d"/><stop offset="0.54" stop-color="#2e7f8c"/><stop offset="0.57" stop-color="#287a8c"/><stop offset="0.61" stop-color="#25748b"/><stop offset="0.64" stop-color="#226f8a"/><stop offset="0.68" stop-color="#1f6989"/><stop offset="0.71" stop-color="#1c6488"/><stop offset="0.75" stop-color="#1e5e86"/><stop offset="0.79" stop-color="#215783"/><stop offset="0.82" stop-color="#235181"/><stop offset="0.86" stop-color="#254b7f"/><stop offset="0.89" stop-color="#27447c"/><stop offset="0.93" stop-color="#293e78"/><stop offset="0.96" stop-color="#2a3775"/><stop offset="1" stop-color="#2c3172"/></linearGradient></defs>
<rect x="1587.2" y="1427.9" width="20.7" height="291.8" fill="url(#gradCrest)"/>
<line x1="1610.3" y1="1427.9" x2="1618" y2="1427.9" stroke="#000" stroke-width="2.1"/>
<text class="a" x="1623.3" y="1437.2" font-size="37.2">1.0</text>
<line x1="1610.3" y1="1486.02" x2="1618" y2="1486.02" stroke="#000" stroke-width="2.1"/>
<text class="a" x="1623.3" y="1495.32" font-size="37.2">0.8</text>
<line x1="1610.3" y1="1544.14" x2="1618" y2="1544.14" stroke="#000" stroke-width="2.1"/>
<text class="a" x="1623.3" y="1553.44" font-size="37.2">0.6</text>
<line x1="1610.3" y1="1602.26" x2="1618" y2="1602.26" stroke="#000" stroke-width="2.1"/>
<text class="a" x="1623.3" y="1611.56" font-size="37.2">0.4</text>
<line x1="1610.3" y1="1660.38" x2="1618" y2="1660.38" stroke="#000" stroke-width="2.1"/>
<text class="a" x="1623.3" y="1669.68" font-size="37.2">0.2</text>
<line x1="1610.3" y1="1718.5" x2="1618" y2="1718.5" stroke="#000" stroke-width="2.1"/>
<text class="a" x="1623.3" y="1727.8" font-size="37.2">0.0</text>
</g>
<g id="panel-e">
<text class="a" x="-1.3" y="2044.9" font-size="37.5" font-weight="bold">e</text>
<text class="a" x="111.6" y="2228" font-size="37.2" text-anchor="middle" transform="rotate(-90 111.6 2228)">Branching  index</text>
<text class="a" x="155.9" y="2229.5" font-size="37.2" text-anchor="middle" transform="rotate(-90 155.9 2229.5)">(LR cm<tspan dx="1.2" dy="-12.4" font-size="27.3">-1</tspan><tspan dx="2" dy="12.4" font-size="37.2">)</tspan></text>
<line x1="237.6" y1="2048.6" x2="246.6" y2="2048.6" stroke="#000" stroke-width="2"/>
<text class="a" x="231.5" y="2062.2" font-size="37.2" text-anchor="end">1.5</text>
<line x1="237.6" y1="2165.9" x2="246.6" y2="2165.9" stroke="#000" stroke-width="2"/>
<text class="a" x="231.5" y="2179.5" font-size="37.2" text-anchor="end">1.0</text>
<line x1="237.6" y1="2282.3" x2="246.6" y2="2282.3" stroke="#000" stroke-width="2"/>
<text class="a" x="231.5" y="2295.9" font-size="37.2" text-anchor="end">0.5</text>
<line x1="321.3" y1="2387.1" x2="321.3" y2="2397.1" stroke="#000" stroke-width="2"/>
<line x1="471.8" y1="2387.1" x2="471.8" y2="2397.1" stroke="#000" stroke-width="2"/>
<line x1="622.3" y1="2387.1" x2="622.3" y2="2397.1" stroke="#000" stroke-width="2"/>
<line x1="772.8" y1="2387.1" x2="772.8" y2="2397.1" stroke="#000" stroke-width="2"/>
<line x1="290.75" y1="2234.9" x2="290.75" y2="2268.8" stroke="#3f3f3f" stroke-width="3"/>
<line x1="290.75" y1="2304.4" x2="290.75" y2="2333.6" stroke="#3f3f3f" stroke-width="3"/>
<line x1="274.25" y1="2234.9" x2="307.25" y2="2234.9" stroke="#3f3f3f" stroke-width="3"/>
<line x1="274.25" y1="2333.6" x2="307.25" y2="2333.6" stroke="#3f3f3f" stroke-width="3"/>
<rect x="260.5" y="2268.8" width="60.5" height="35.6" fill="#3274a1" stroke="#3f3f3f" stroke-width="3"/>
<line x1="260.5" y1="2291" x2="321" y2="2291" stroke="#3f3f3f" stroke-width="3"/>
<line x1="441.25" y1="2061.5" x2="441.25" y2="2178.2" stroke="#3f3f3f" stroke-width="3"/>
<line x1="441.25" y1="2272" x2="441.25" y2="2310.5" stroke="#3f3f3f" stroke-width="3"/>
<line x1="424.75" y1="2061.5" x2="457.75" y2="2061.5" stroke="#3f3f3f" stroke-width="3"/>
<line x1="424.75" y1="2310.5" x2="457.75" y2="2310.5" stroke="#3f3f3f" stroke-width="3"/>
<rect x="411" y="2178.2" width="60.5" height="93.8" fill="#3274a1" stroke="#3f3f3f" stroke-width="3"/>
<line x1="411" y1="2243.1" x2="471.5" y2="2243.1" stroke="#3f3f3f" stroke-width="3"/>
<line x1="591.75" y1="2212.5" x2="591.75" y2="2277" stroke="#3f3f3f" stroke-width="3"/>
<line x1="591.75" y1="2340.2" x2="591.75" y2="2371.7" stroke="#3f3f3f" stroke-width="3"/>
<line x1="575.25" y1="2212.5" x2="608.25" y2="2212.5" stroke="#3f3f3f" stroke-width="3"/>
<line x1="575.25" y1="2371.7" x2="608.25" y2="2371.7" stroke="#3f3f3f" stroke-width="3"/>
<rect x="561.5" y="2277" width="60.5" height="63.2" fill="#3274a1" stroke="#3f3f3f" stroke-width="3"/>
<line x1="561.5" y1="2311" x2="622" y2="2311" stroke="#3f3f3f" stroke-width="3"/>
<line x1="742.25" y1="2180.5" x2="742.25" y2="2218.3" stroke="#3f3f3f" stroke-width="3"/>
<line x1="742.25" y1="2298.2" x2="742.25" y2="2340.2" stroke="#3f3f3f" stroke-width="3"/>
<line x1="725.75" y1="2180.5" x2="758.75" y2="2180.5" stroke="#3f3f3f" stroke-width="3"/>
<line x1="725.75" y1="2340.2" x2="758.75" y2="2340.2" stroke="#3f3f3f" stroke-width="3"/>
<rect x="712" y="2218.3" width="60.5" height="79.9" fill="#3274a1" stroke="#3f3f3f" stroke-width="3"/>
<line x1="712" y1="2270.5" x2="772.5" y2="2270.5" stroke="#3f3f3f" stroke-width="3"/>
<line x1="351.85" y1="2290.1" x2="351.85" y2="2303" stroke="#3f3f3f" stroke-width="3"/>
<line x1="351.85" y1="2315" x2="351.85" y2="2328.5" stroke="#3f3f3f" stroke-width="3"/>
<line x1="335.35" y1="2290.1" x2="368.35" y2="2290.1" stroke="#3f3f3f" stroke-width="3"/>
<line x1="335.35" y1="2328.5" x2="368.35" y2="2328.5" stroke="#3f3f3f" stroke-width="3"/>
<rect x="321.6" y="2303" width="60.5" height="12" fill="#e1812c" stroke="#3f3f3f" stroke-width="3"/>
<line x1="321.6" y1="2308.7" x2="382.1" y2="2308.7" stroke="#3f3f3f" stroke-width="3"/>
<line x1="502.35" y1="2242.4" x2="502.35" y2="2258.8" stroke="#3f3f3f" stroke-width="3"/>
<line x1="502.35" y1="2273.1" x2="502.35" y2="2289.4" stroke="#3f3f3f" stroke-width="3"/>
<line x1="485.85" y1="2242.4" x2="518.85" y2="2242.4" stroke="#3f3f3f" stroke-width="3"/>
<line x1="485.85" y1="2289.4" x2="518.85" y2="2289.4" stroke="#3f3f3f" stroke-width="3"/>
<rect x="472.1" y="2258.8" width="60.5" height="14.3" fill="#e1812c" stroke="#3f3f3f" stroke-width="3"/>
<line x1="472.1" y1="2265.9" x2="532.6" y2="2265.9" stroke="#3f3f3f" stroke-width="3"/>
<line x1="652.85" y1="2257.5" x2="652.85" y2="2280" stroke="#3f3f3f" stroke-width="3"/>
<line x1="652.85" y1="2298.2" x2="652.85" y2="2320.5" stroke="#3f3f3f" stroke-width="3"/>
<line x1="636.35" y1="2257.5" x2="669.35" y2="2257.5" stroke="#3f3f3f" stroke-width="3"/>
<line x1="636.35" y1="2320.5" x2="669.35" y2="2320.5" stroke="#3f3f3f" stroke-width="3"/>
<rect x="622.6" y="2280" width="60.5" height="18.2" fill="#e1812c" stroke="#3f3f3f" stroke-width="3"/>
<line x1="622.6" y1="2289" x2="683.1" y2="2289" stroke="#3f3f3f" stroke-width="3"/>
<circle cx="652.85" cy="2339.5" r="9.1" fill="none" stroke="#3f3f3f" stroke-width="3.4"/>
<circle cx="652.85" cy="2342.2" r="9.1" fill="none" stroke="#3f3f3f" stroke-width="3.4"/>
<line x1="803.35" y1="2279.2" x2="803.35" y2="2291.7" stroke="#3f3f3f" stroke-width="3"/>
<line x1="803.35" y1="2301.7" x2="803.35" y2="2312.7" stroke="#3f3f3f" stroke-width="3"/>
<line x1="786.85" y1="2279.2" x2="819.85" y2="2279.2" stroke="#3f3f3f" stroke-width="3"/>
<line x1="786.85" y1="2312.7" x2="819.85" y2="2312.7" stroke="#3f3f3f" stroke-width="3"/>
<rect x="773.1" y="2291.7" width="60.5" height="10" fill="#e1812c" stroke="#3f3f3f" stroke-width="3"/>
<line x1="773.1" y1="2296.8" x2="833.6" y2="2296.8" stroke="#3f3f3f" stroke-width="3"/>
<circle cx="803.35" cy="2272.5" r="9.1" fill="none" stroke="#3f3f3f" stroke-width="3.4"/>
<circle cx="803.35" cy="2274.5" r="9.1" fill="none" stroke="#3f3f3f" stroke-width="3.4"/>
<circle cx="803.35" cy="2277" r="9.1" fill="none" stroke="#3f3f3f" stroke-width="3.4"/>
<circle cx="803.35" cy="2321.6" r="9.1" fill="none" stroke="#3f3f3f" stroke-width="3.4"/>
<rect x="246.6" y="2045.8" width="601.6" height="341.3" fill="none" stroke="#000" stroke-width="2.5"/>
<rect x="671.2" y="2059.8" width="44.6" height="44.2" fill="#3274a1"/>
<rect x="671.2" y="2115" width="44.6" height="44.3" fill="#e1812c"/>
<text class="a" x="737.5" y="2095.4" font-size="37.2">data</text>
<text class="a" x="737.5" y="2151.2" font-size="37.2">model</text>
<text class="a" x="287" y="2430.9" font-size="37.2"><tspan x="287" y="2430.9">WT</tspan><tspan x="346" y="2430.9" font-style="italic">/</tspan></text>
<text class="a" x="287" y="2472.4" font-size="37.2">WT</text>
<text class="a" x="402" y="2430.9" font-size="37.2"><tspan x="402" y="2430.9">WT</tspan><tspan x="461" y="2430.9" font-style="italic">/</tspan></text>
<text class="a" x="402" y="2475.6" font-size="37.2"><tspan x="402" y="2475.6" font-style="italic">bri1</tspan><tspan x="463.6" y="2463" font-style="italic" font-size="27.5">cu3</tspan></text>
<text class="a" x="563.5" y="2434.6" font-size="37.2"><tspan x="563.5" y="2434.6" font-style="italic">bri1</tspan><tspan x="625.1" y="2422" font-style="italic" font-size="27.5">cu3</tspan><tspan x="669.1" y="2434.6" font-style="italic">/</tspan></text>
<text class="a" x="563.5" y="2479.4" font-size="37.2"><tspan x="563.5" y="2479.4" font-style="italic">bri1</tspan><tspan x="625.1" y="2466.8" font-style="italic" font-size="27.5">cu3</tspan></text>
<text class="a" x="725.3" y="2434.6" font-size="37.2"><tspan x="725.3" y="2434.6" font-style="italic">bri1</tspan><tspan x="786.9" y="2422" font-style="italic" font-size="27.5">cu3</tspan><tspan x="830.9" y="2434.6" font-style="italic">/</tspan></text>
<text class="a" x="725.3" y="2476.6" font-size="37.2">WT</text>
</g>
<g id="panel-f">
<text class="a" x="953" y="2044.3" font-size="37.5" font-weight="bold">f</text>
<text class="a" x="984.6" y="2230.6" font-size="37.2" text-anchor="middle" transform="rotate(-90 984.6 2230.6)">Root FW (mg)</text>
<line x1="1061.2" y1="2071.5" x2="1070.2" y2="2071.5" stroke="#000" stroke-width="2"/>
<text class="a" x="1052" y="2085.1" font-size="37.2" text-anchor="end">60</text>
<line x1="1061.2" y1="2184.5" x2="1070.2" y2="2184.5" stroke="#000" stroke-width="2"/>
<text class="a" x="1052" y="2198.1" font-size="37.2" text-anchor="end">40</text>
<line x1="1061.2" y1="2296.9" x2="1070.2" y2="2296.9" stroke="#000" stroke-width="2"/>
<text class="a" x="1052" y="2310.5" font-size="37.2" text-anchor="end">20</text>
<line x1="1145.4" y1="2387.1" x2="1145.4" y2="2397.1" stroke="#000" stroke-width="2"/>
<line x1="1295.6" y1="2387.1" x2="1295.6" y2="2397.1" stroke="#000" stroke-width="2"/>
<line x1="1445.9" y1="2387.1" x2="1445.9" y2="2397.1" stroke="#000" stroke-width="2"/>
<line x1="1596.2" y1="2387.1" x2="1596.2" y2="2397.1" stroke="#000" stroke-width="2"/>
<line x1="1114.85" y1="2085.2" x2="1114.85" y2="2176.5" stroke="#3f3f3f" stroke-width="3"/>
<line x1="1114.85" y1="2246.6" x2="1114.85" y2="2296.9" stroke="#3f3f3f" stroke-width="3"/>
<line x1="1098.35" y1="2085.2" x2="1131.35" y2="2085.2" stroke="#3f3f3f" stroke-width="3"/>
<line x1="1098.35" y1="2296.9" x2="1131.35" y2="2296.9" stroke="#3f3f3f" stroke-width="3"/>
<rect x="1084.6" y="2176.5" width="60.5" height="70.1" fill="#3274a1" stroke="#3f3f3f" stroke-width="3"/>
<line x1="1084.6" y1="2231.7" x2="1145.1" y2="2231.7" stroke="#3f3f3f" stroke-width="3"/>
<circle cx="1114.85" cy="2061.5" r="9.1" fill="none" stroke="#3f3f3f" stroke-width="3.4"/>
<line x1="1265.05" y1="2113.8" x2="1265.05" y2="2159.3" stroke="#3f3f3f" stroke-width="3"/>
<line x1="1265.05" y1="2275.5" x2="1265.05" y2="2342.2" stroke="#3f3f3f" stroke-width="3"/>
<line x1="1248.55" y1="2113.8" x2="1281.55" y2="2113.8" stroke="#3f3f3f" stroke-width="3"/>
<line x1="1248.55" y1="2342.2" x2="1281.55" y2="2342.2" stroke="#3f3f3f" stroke-width="3"/>
<rect x="1234.8" y="2159.3" width="60.5" height="116.2" fill="#3274a1" stroke="#3f3f3f" stroke-width="3"/>
<line x1="1234.8" y1="2230.8" x2="1295.3" y2="2230.8" stroke="#3f3f3f" stroke-width="3"/>
<line x1="1415.35" y1="2305.6" x2="1415.35" y2="2335.9" stroke="#3f3f3f" stroke-width="3"/>
<line x1="1415.35" y1="2357.9" x2="1415.35" y2="2371.7" stroke="#3f3f3f" stroke-width="3"/>
<line x1="1398.85" y1="2305.6" x2="1431.85" y2="2305.6" stroke="#3f3f3f" stroke-width="3"/>
<line x1="1398.85" y1="2371.7" x2="1431.85" y2="2371.7" stroke="#3f3f3f" stroke-width="3"/>
<rect x="1385.1" y="2335.9" width="60.5" height="22" fill="#3274a1" stroke="#3f3f3f" stroke-width="3"/>
<line x1="1385.1" y1="2354.5" x2="1445.6" y2="2354.5" stroke="#3f3f3f" stroke-width="3"/>
<line x1="1565.65" y1="2290.4" x2="1565.65" y2="2322.2" stroke="#3f3f3f" stroke-width="3"/>
<line x1="1565.65" y1="2347.9" x2="1565.65" y2="2361.9" stroke="#3f3f3f" stroke-width="3"/>
<line x1="1549.15" y1="2290.4" x2="1582.15" y2="2290.4" stroke="#3f3f3f" stroke-width="3"/>
<line x1="1549.15" y1="2361.9" x2="1582.15" y2="2361.9" stroke="#3f3f3f" stroke-width="3"/>
<rect x="1535.4" y="2322.2" width="60.5" height="25.7" fill="#3274a1" stroke="#3f3f3f" stroke-width="3"/>
<line x1="1535.4" y1="2339.9" x2="1595.9" y2="2339.9" stroke="#3f3f3f" stroke-width="3"/>
<line x1="1175.95" y1="2141.3" x2="1175.95" y2="2195.4" stroke="#3f3f3f" stroke-width="3"/>
<line x1="1175.95" y1="2235.1" x2="1175.95" y2="2283.4" stroke="#3f3f3f" stroke-width="3"/>
<line x1="1159.45" y1="2141.3" x2="1192.45" y2="2141.3" stroke="#3f3f3f" stroke-width="3"/>
<line x1="1159.45" y1="2283.4" x2="1192.45" y2="2283.4" stroke="#3f3f3f" stroke-width="3"/>
<rect x="1145.7" y="2195.4" width="60.5" height="39.7" fill="#e1812c" stroke="#3f3f3f" stroke-width="3"/>
<line x1="1145.7" y1="2220.3" x2="1206.2" y2="2220.3" stroke="#3f3f3f" stroke-width="3"/>
<circle cx="1175.95" cy="2120.1" r="9.1" fill="none" stroke="#3f3f3f" stroke-width="3.4"/>
<circle cx="1175.95" cy="2131.5" r="9.1" fill="none" stroke="#3f3f3f" stroke-width="3.4"/>
<circle cx="1175.95" cy="2134.5" r="9.1" fill="none" stroke="#3f3f3f" stroke-width="3.4"/>
<circle cx="1175.95" cy="2300.2" r="9.1" fill="none" stroke="#3f3f3f" stroke-width="3.4"/>
<line x1="1326.15" y1="2139.3" x2="1326.15" y2="2201.7" stroke="#3f3f3f" stroke-width="3"/>
<line x1="1326.15" y1="2245.1" x2="1326.15" y2="2299.4" stroke="#3f3f3f" stroke-width="3"/>
<line x1="1309.65" y1="2139.3" x2="1342.65" y2="2139.3" stroke="#3f3f3f" stroke-width="3"/>
<line x1="1309.65" y1="2299.4" x2="1342.65" y2="2299.4" stroke="#3f3f3f" stroke-width="3"/>
<rect x="1295.9" y="2201.7" width="60.5" height="43.4" fill="#e1812c" stroke="#3f3f3f" stroke-width="3"/>
<line x1="1295.9" y1="2224" x2="1356.4" y2="2224" stroke="#3f3f3f" stroke-width="3"/>
<line x1="1476.45" y1="2321.6" x2="1476.45" y2="2338.8" stroke="#3f3f3f" stroke-width="3"/>
<line x1="1476.45" y1="2352.2" x2="1476.45" y2="2367.4" stroke="#3f3f3f" stroke-width="3"/>
<line x1="1459.95" y1="2321.6" x2="1492.95" y2="2321.6" stroke="#3f3f3f" stroke-width="3"/>
<line x1="1459.95" y1="2367.4" x2="1492.95" y2="2367.4" stroke="#3f3f3f" stroke-width="3"/>
<rect x="1446.2" y="2338.8" width="60.5" height="13.4" fill="#e1812c" stroke="#3f3f3f" stroke-width="3"/>
<line x1="1446.2" y1="2345.9" x2="1506.7" y2="2345.9" stroke="#3f3f3f" stroke-width="3"/>
<line x1="1626.75" y1="2273.3" x2="1626.75" y2="2299.3" stroke="#3f3f3f" stroke-width="3"/>
<line x1="1626.75" y1="2318.7" x2="1626.75" y2="2345.3" stroke="#3f3f3f" stroke-width="3"/>
<line x1="1610.25" y1="2273.3" x2="1643.25" y2="2273.3" stroke="#3f3f3f" stroke-width="3"/>
<line x1="1610.25" y1="2345.3" x2="1643.25" y2="2345.3" stroke="#3f3f3f" stroke-width="3"/>
<rect x="1596.5" y="2299.3" width="60.5" height="19.4" fill="#e1812c" stroke="#3f3f3f" stroke-width="3"/>
<line x1="1596.5" y1="2307.9" x2="1657" y2="2307.9" stroke="#3f3f3f" stroke-width="3"/>
<circle cx="1626.75" cy="2265.5" r="9.1" fill="none" stroke="#3f3f3f" stroke-width="3.4"/>
<circle cx="1626.75" cy="2268.5" r="9.1" fill="none" stroke="#3f3f3f" stroke-width="3.4"/>
<circle cx="1626.75" cy="2347.9" r="9.1" fill="none" stroke="#3f3f3f" stroke-width="3.4"/>
<rect x="1070.2" y="2045.8" width="602.6" height="341.3" fill="none" stroke="#000" stroke-width="2.5"/>
<rect x="1490.4" y="2059.8" width="44.6" height="44.2" fill="#3274a1"/>
<rect x="1490.4" y="2115" width="44.6" height="44.3" fill="#e1812c"/>
<text class="a" x="1557.8" y="2095.4" font-size="37.2">data</text>
<text class="a" x="1557.8" y="2151.2" font-size="37.2">model</text>
<text class="a" x="1110.8" y="2430.9" font-size="37.2"><tspan x="1110.8" y="2430.9">WT</tspan><tspan x="1169.8" y="2430.9" font-style="italic">/</tspan></text>
<text class="a" x="1110.8" y="2472.4" font-size="37.2">WT</text>
<text class="a" x="1226.1" y="2430.9" font-size="37.2"><tspan x="1226.1" y="2430.9">WT</tspan><tspan x="1285.1" y="2430.9" font-style="italic">/</tspan></text>
<text class="a" x="1226.1" y="2475.6" font-size="37.2"><tspan x="1226.1" y="2475.6" font-style="italic">bri1</tspan><tspan x="1287.7" y="2463" font-style="italic" font-size="27.5">cu3</tspan></text>
<text class="a" x="1387.5" y="2434.6" font-size="37.2"><tspan x="1387.5" y="2434.6" font-style="italic">bri1</tspan><tspan x="1449.1" y="2422" font-style="italic" font-size="27.5">cu3</tspan><tspan x="1493.1" y="2434.6" font-style="italic">/</tspan></text>
<text class="a" x="1387.5" y="2479.4" font-size="37.2"><tspan x="1387.5" y="2479.4" font-style="italic">bri1</tspan><tspan x="1449.1" y="2466.8" font-style="italic" font-size="27.5">cu3</tspan></text>
<text class="a" x="1549.2" y="2434.6" font-size="37.2"><tspan x="1549.2" y="2434.6" font-style="italic">bri1</tspan><tspan x="1610.8" y="2422" font-style="italic" font-size="27.5">cu3</tspan><tspan x="1654.8" y="2434.6" font-style="italic">/</tspan></text>
<text class="a" x="1549.2" y="2476.6" font-size="37.2">WT</text>
</g>
</svg>
</body>
</html>
